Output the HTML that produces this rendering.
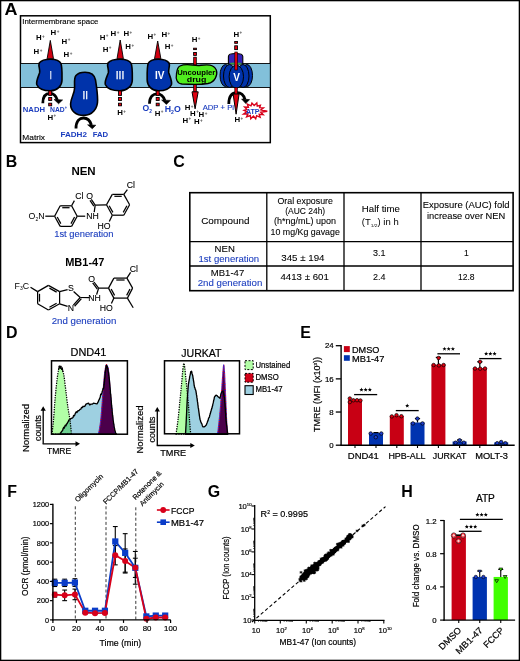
<!DOCTYPE html>
<html><head><meta charset="utf-8"><title>Figure</title>
<style>html,body{margin:0;padding:0;background:#fff;overflow:hidden}svg{display:block}text{font-family:"Liberation Sans", sans-serif}</style>
</head><body>
<svg width="520" height="661" viewBox="0 0 520 661">
<rect x="0" y="0" width="520" height="661" fill="#fff"/>
<text x="4.60" y="14.85" font-size="15.94" font-weight="bold" fill="#000" textLength="13.00" lengthAdjust="spacingAndGlyphs" >A</text>
<rect x="20.5" y="15.8" width="249.8" height="126.8" fill="#fff" stroke="#000" stroke-width="1.5"/>
<rect x="20.5" y="63.5" width="249.8" height="24" fill="#82c0da" stroke="#000" stroke-width="0.9"/>
<text x="22.30" y="23.75" font-size="7.10" stroke="#000" stroke-width="0.12" fill="#000" textLength="76.20" lengthAdjust="spacingAndGlyphs" >Intermembrane space</text>
<text x="22.30" y="139.95" font-size="7.10" stroke="#000" stroke-width="0.12" fill="#000" textLength="22.70" lengthAdjust="spacingAndGlyphs" >Matrix</text>
<path d="M50.3,40.4 L53.5,58.8 L47.099999999999994,58.8 Z" fill="#d00010" stroke="#000" stroke-width="0.9" stroke-linejoin="round"/>
<path d="M120.2,40 L123.4,58.8 L117.0,58.8 Z" fill="#d00010" stroke="#000" stroke-width="0.9" stroke-linejoin="round"/>
<path d="M157.7,41 L160.89999999999998,58.8 L154.5,58.8 Z" fill="#d00010" stroke="#000" stroke-width="0.9" stroke-linejoin="round"/>
<path d="M108,63 C110,60.5 115,59.2 120,59.2 C125,59.2 129.5,60 131.2,63.5 C132.6,67 132.3,75 132.3,80 C132.3,86 127,90.8 120,90.8 C113,90.8 107,88.5 105.3,84.5 C104.5,81 106.8,77 108.3,73 C109,70 107.5,67 107.6,65 Z" transform="translate(50.5,0) scale(0.935,1) translate(-120,0)" fill="#0033aa" stroke="#000" stroke-width="1.6" vector-effect="non-scaling-stroke"/>
<path d="M85,72.3 C90,72.3 94.5,74.5 95.5,80 C96.3,85 97.5,92 97.6,100 C97.8,109 92,115.4 84,115.4 C76,115.4 70.5,111 70.6,104 C70.7,98 74.5,94 74.6,88 C74.7,82 73.8,78 76,75.5 C78,73.2 81.5,72.3 85,72.3 Z" fill="#0033aa" stroke="#000" stroke-width="1.6"/>
<path d="M108,63 C110,60.5 115,59.2 120,59.2 C125,59.2 129.5,60 131.2,63.5 C132.6,67 132.3,75 132.3,80 C132.3,86 127,90.8 120,90.8 C113,90.8 107,88.5 105.3,84.5 C104.5,81 106.8,77 108.3,73 C109,70 107.5,67 107.6,65 Z" fill="#0033aa" stroke="#000" stroke-width="1.6"/>
<path d="M108,63 C110,60.5 115,59.2 120,59.2 C125,59.2 129.5,60 131.2,63.5 C132.6,67 132.3,75 132.3,80 C132.3,86 127,90.8 120,90.8 C113,90.8 107,88.5 105.3,84.5 C104.5,81 106.8,77 108.3,73 C109,70 107.5,67 107.6,65 Z" transform="translate(159.6,0) scale(-0.9,1) translate(-118.5,0)" fill="#0033aa" stroke="#000" stroke-width="1.6" vector-effect="non-scaling-stroke"/>
<g fill="#fff" stroke="#fff" stroke-width="0.25" text-anchor="middle" font-size="10.4">
<text x="50.8" y="78.6" textLength="2" lengthAdjust="spacingAndGlyphs">I</text><text x="85.3" y="99.4" textLength="5.5" lengthAdjust="spacingAndGlyphs">II</text><text x="120" y="78.6" textLength="8.6" lengthAdjust="spacingAndGlyphs">III</text></g>
<text x="159.8" y="79.0" fill="#fff" font-weight="bold" text-anchor="middle" font-size="10">IV</text>
<rect x="193.6" y="48.2" width="2.8" height="1.40" fill="#ee0010" stroke="#000" stroke-width="0.9"/>
<rect x="193.6" y="52.5" width="2.8" height="2.90" fill="#ee0010" stroke="#000" stroke-width="0.9"/>
<rect x="193.7" y="57.2" width="2.6" height="35" fill="#e00010" stroke="#000" stroke-width="0.8"/>
<path d="M192.0,91.8 L198.2,91.8 L195.1,108.8 Z" fill="#e00010" stroke="#000" stroke-width="1.0" stroke-linejoin="round"/>
<path d="M180,66 C186,63 192,65.5 198,65.5 C205,65 213,63 216.3,70 C218,75 215,82 208,83.5 C200,85 190,84.5 182,84 C177,83.5 175.5,79 176.5,74 C177,70 177,67.5 180,66 Z" fill="#50ee1e" stroke="#000" stroke-width="1.3"/>
<text x="177.30" y="75.35" font-size="7.97" font-weight="bold" fill="#000" textLength="38.00" lengthAdjust="spacingAndGlyphs" >Uncoupler</text>
<text x="186.80" y="81.95" font-size="7.97" font-weight="bold" fill="#000" textLength="19.60" lengthAdjust="spacingAndGlyphs" >drug</text>
<rect x="234.7" y="41.5" width="2.8" height="1.80" fill="#ee0010" stroke="#000" stroke-width="0.9"/>
<rect x="234.7" y="45.8" width="2.8" height="3.80" fill="#ee0010" stroke="#000" stroke-width="0.9"/>
<path d="M228.4,64 L228.4,56.5 C228.4,52.6 242.8,52.6 242.8,56.5 L242.8,64 Z" fill="#3322b8" stroke="#000" stroke-width="1.1"/>
<ellipse cx="235.6" cy="63.4" rx="6.2" ry="0.9" fill="#3aa040"/>
<ellipse cx="225.5" cy="75.5" rx="5.5" ry="11" fill="#0033aa" stroke="#000" stroke-width="1"/>
<ellipse cx="247" cy="75.5" rx="5.5" ry="11" fill="#0033aa" stroke="#000" stroke-width="1"/>
<ellipse cx="229.5" cy="76" rx="6" ry="11.5" fill="#0033aa" stroke="#000" stroke-width="1"/>
<ellipse cx="243" cy="76" rx="6" ry="11.5" fill="#0033aa" stroke="#000" stroke-width="1"/>
<ellipse cx="236.3" cy="76.7" rx="7.2" ry="11.5" fill="#0033aa" stroke="#000" stroke-width="1"/>
<rect x="234.8" y="52.0" width="2.6" height="18" fill="#e00010" stroke="#000" stroke-width="0.6"/>
<text x="236.6" y="80.6" fill="#fff" font-weight="bold" text-anchor="middle" font-size="10">V</text>
<path d="M42.8,103.2 C42.8,95.5 46.5,93.3 50,93.3 C53.5,93.3 56,95.5 57.3,100" fill="none" stroke="#000" stroke-width="2.8"/>
<path d="M54.0,99.4 L62.6,99.9 L58.6,103.8 Z" fill="#000" stroke="#000" stroke-width="0.6" stroke-linejoin="round"/>
<path d="M76,128.4 C76,120.3 80,118 83.5,118 C87,118 90,120.3 91.4,125" fill="none" stroke="#000" stroke-width="2.8"/>
<path d="M87.6,124.8 L95.8,125.2 L92.3,128.8 Z" fill="#000" stroke="#000" stroke-width="0.6" stroke-linejoin="round"/>
<path d="M149.5,103.8 C149.5,96 153.5,93.8 157,93.8 C160.5,93.8 163.5,96 164.8,100.5" fill="none" stroke="#000" stroke-width="2.8"/>
<path d="M161.6,100.0 L170.4,100.4 L166.4,104.4 Z" fill="#000" stroke="#000" stroke-width="0.6" stroke-linejoin="round"/>
<path d="M228.8,104 C228.8,95 233,92.6 237,92.6 C241,92.6 243.8,95 244.9,99.4" fill="none" stroke="#000" stroke-width="2.8"/>
<path d="M241.6,99.0 L249.6,99.6 L245.8,103.6 Z" fill="#000" stroke="#000" stroke-width="0.6" stroke-linejoin="round"/>
<rect x="48.7" y="90.9" width="3.0" height="4.50" fill="#ee0010" stroke="#000" stroke-width="0.9"/>
<rect x="48.7" y="97.5" width="3.0" height="3.00" fill="#ee0010" stroke="#000" stroke-width="0.9"/>
<rect x="48.7" y="103.2" width="3.0" height="2.60" fill="#ee0010" stroke="#000" stroke-width="0.9"/>
<rect x="118.5" y="90.9" width="3.0" height="4.50" fill="#ee0010" stroke="#000" stroke-width="0.9"/>
<rect x="118.5" y="97.5" width="3.0" height="3.00" fill="#ee0010" stroke="#000" stroke-width="0.9"/>
<rect x="118.5" y="103.2" width="3.0" height="2.60" fill="#ee0010" stroke="#000" stroke-width="0.9"/>
<rect x="156.2" y="90.9" width="3.0" height="4.50" fill="#ee0010" stroke="#000" stroke-width="0.9"/>
<rect x="156.2" y="97.5" width="3.0" height="3.00" fill="#ee0010" stroke="#000" stroke-width="0.9"/>
<rect x="156.2" y="103.2" width="3.0" height="2.60" fill="#ee0010" stroke="#000" stroke-width="0.9"/>
<rect x="234.8" y="87.5" width="2.6" height="7" fill="#e00010" stroke="#000" stroke-width="0.6"/>
<path d="M233.1,94 L239.1,94 L236.1,114.2 Z" fill="#e00010" stroke="#000" stroke-width="1.0" stroke-linejoin="round"/>
<polygon points="267.28,111.30 260.73,112.24 263.17,114.58 259.20,114.33 260.13,117.31 256.60,115.71 255.69,118.75 253.44,116.12 250.79,118.72 250.36,115.48 246.63,116.81 247.95,113.91 243.58,113.99 246.71,111.72 243.97,110.44 246.87,109.36 244.62,107.10 248.40,107.27 247.31,104.12 251.00,105.89 251.94,103.00 254.16,105.48 256.80,102.92 257.24,106.12 260.39,105.28 259.65,107.69 263.44,107.80 260.89,109.88" fill="#fff" stroke="#d8001a" stroke-width="1.4" stroke-linejoin="miter"/>
<text x="245.90" y="113.60" font-size="8.12" font-weight="bold" fill="#1a3cbe" textLength="13.70" lengthAdjust="spacingAndGlyphs" >ATP</text>
<text x="22.80" y="112.30" font-size="7.83" font-weight="bold" fill="#1a3cbe" textLength="22.20" lengthAdjust="spacingAndGlyphs" >NADH</text>
<text x="50" y="112.3" font-size="7.8" font-weight="bold" fill="#1a3cbe" textLength="17" lengthAdjust="spacingAndGlyphs">NAD<tspan font-size="4.5" dy="-3">+</tspan></text>
<text x="60.40" y="137.30" font-size="7.83" font-weight="bold" fill="#1a3cbe" textLength="26.60" lengthAdjust="spacingAndGlyphs" >FADH2</text>
<text x="92.70" y="137.30" font-size="7.83" font-weight="bold" fill="#1a3cbe" textLength="15.50" lengthAdjust="spacingAndGlyphs" >FAD</text>
<text x="142.5" y="111.2" font-size="8.6" font-weight="bold" fill="#1a3cbe">O<tspan font-size="4.8" dy="2">2</tspan></text>
<text x="164.8" y="111.6" font-size="8.2" font-weight="bold" fill="#1a3cbe" textLength="16" lengthAdjust="spacingAndGlyphs">H<tspan font-size="4.8" dy="2">2</tspan><tspan dy="-2">O</tspan></text>
<text x="202.70" y="110.10" font-size="7.54" stroke="#1a3cbe" stroke-width="0.12" fill="#1a3cbe" textLength="31.30" lengthAdjust="spacingAndGlyphs" >ADP + Pi</text>
<text x="35.90" y="40.00" font-size="7.83" font-weight="bold">H<tspan font-size="4.54" dx="0.5" dy="-2.35" fill="#555">+</tspan></text>
<text x="50.50" y="35.10" font-size="7.83" font-weight="bold">H<tspan font-size="4.54" dx="0.5" dy="-2.35" fill="#555">+</tspan></text>
<text x="61.50" y="43.70" font-size="7.83" font-weight="bold">H<tspan font-size="4.54" dx="0.5" dy="-2.35" fill="#555">+</tspan></text>
<text x="33.50" y="53.90" font-size="7.83" font-weight="bold">H<tspan font-size="4.54" dx="0.5" dy="-2.35" fill="#555">+</tspan></text>
<text x="63.50" y="57.40" font-size="7.83" font-weight="bold">H<tspan font-size="4.54" dx="0.5" dy="-2.35" fill="#555">+</tspan></text>
<text x="99.70" y="39.80" font-size="7.83" font-weight="bold">H<tspan font-size="4.54" dx="0.5" dy="-2.35" fill="#555">+</tspan></text>
<text x="110.50" y="36.00" font-size="7.83" font-weight="bold">H<tspan font-size="4.54" dx="0.5" dy="-2.35" fill="#555">+</tspan></text>
<text x="123.40" y="36.40" font-size="7.83" font-weight="bold">H<tspan font-size="4.54" dx="0.5" dy="-2.35" fill="#555">+</tspan></text>
<text x="102.70" y="51.70" font-size="7.83" font-weight="bold">H<tspan font-size="4.54" dx="0.5" dy="-2.35" fill="#555">+</tspan></text>
<text x="125.30" y="49.40" font-size="7.83" font-weight="bold">H<tspan font-size="4.54" dx="0.5" dy="-2.35" fill="#555">+</tspan></text>
<text x="147.40" y="38.50" font-size="7.83" font-weight="bold">H<tspan font-size="4.54" dx="0.5" dy="-2.35" fill="#555">+</tspan></text>
<text x="161.40" y="36.90" font-size="7.83" font-weight="bold">H<tspan font-size="4.54" dx="0.5" dy="-2.35" fill="#555">+</tspan></text>
<text x="164.70" y="49.40" font-size="7.83" font-weight="bold">H<tspan font-size="4.54" dx="0.5" dy="-2.35" fill="#555">+</tspan></text>
<text x="191.70" y="41.90" font-size="7.83" font-weight="bold">H<tspan font-size="4.54" dx="0.5" dy="-2.35" fill="#555">+</tspan></text>
<text x="233.40" y="36.50" font-size="7.83" font-weight="bold">H<tspan font-size="4.54" dx="0.5" dy="-2.35" fill="#555">+</tspan></text>
<text x="47.40" y="119.70" font-size="7.83" font-weight="bold">H<tspan font-size="4.54" dx="0.5" dy="-2.35" fill="#555">+</tspan></text>
<text x="117.20" y="115.00" font-size="7.83" font-weight="bold">H<tspan font-size="4.54" dx="0.5" dy="-2.35" fill="#555">+</tspan></text>
<text x="154.70" y="115.70" font-size="7.83" font-weight="bold">H<tspan font-size="4.54" dx="0.5" dy="-2.35" fill="#555">+</tspan></text>
<text x="184.70" y="109.90" font-size="7.83" font-weight="bold">H<tspan font-size="4.54" dx="0.5" dy="-2.35" fill="#555">+</tspan></text>
<text x="190.10" y="115.70" font-size="7.83" font-weight="bold">H<tspan font-size="4.54" dx="0.5" dy="-2.35" fill="#555">+</tspan></text>
<text x="198.50" y="117.30" font-size="7.83" font-weight="bold">H<tspan font-size="4.54" dx="0.5" dy="-2.35" fill="#555">+</tspan></text>
<text x="182.40" y="122.70" font-size="7.83" font-weight="bold">H<tspan font-size="4.54" dx="0.5" dy="-2.35" fill="#555">+</tspan></text>
<text x="193.90" y="124.20" font-size="7.83" font-weight="bold">H<tspan font-size="4.54" dx="0.5" dy="-2.35" fill="#555">+</tspan></text>
<text x="234.40" y="121.90" font-size="7.83" font-weight="bold">H<tspan font-size="4.54" dx="0.5" dy="-2.35" fill="#555">+</tspan></text>
<text x="11.40" y="167.25" font-size="15.94" text-anchor="middle" font-weight="bold" fill="#000" >B</text>
<text x="71.40" y="174.80" font-size="10.72" font-weight="bold" fill="#000" textLength="24.30" lengthAdjust="spacingAndGlyphs" >NEN</text>
<line x1="54.60" y1="216.20" x2="60.20" y2="205.80" stroke="#000" stroke-width="1.25" />
<line x1="60.20" y1="205.80" x2="71.60" y2="205.80" stroke="#000" stroke-width="1.25" />
<line x1="71.60" y1="205.80" x2="77.20" y2="216.20" stroke="#000" stroke-width="1.25" />
<line x1="77.20" y1="216.20" x2="71.60" y2="226.40" stroke="#000" stroke-width="1.25" />
<line x1="71.60" y1="226.40" x2="60.20" y2="226.40" stroke="#000" stroke-width="1.25" />
<line x1="60.20" y1="226.40" x2="54.60" y2="216.20" stroke="#000" stroke-width="1.25" />
<line x1="62.25" y1="207.70" x2="69.55" y2="207.70" stroke="#000" stroke-width="1.25" />
<line x1="74.57" y1="217.05" x2="70.98" y2="223.58" stroke="#000" stroke-width="1.25" />
<line x1="60.82" y1="223.58" x2="57.23" y2="217.05" stroke="#000" stroke-width="1.25" />
<line x1="71.60" y1="205.80" x2="74.40" y2="200.60" stroke="#000" stroke-width="1.25" />
<text x="79.30" y="198.60" font-size="8.70" text-anchor="middle" stroke="#000" stroke-width="0.1" fill="#000" >Cl</text>
<line x1="77.20" y1="216.20" x2="85.20" y2="216.20" stroke="#000" stroke-width="1.25" />
<text x="92.60" y="219.20" font-size="8.70" text-anchor="middle" stroke="#000" stroke-width="0.1" fill="#000" >NH</text>
<text x="44.6" y="219" font-size="8.8" text-anchor="end">O<tspan font-size="5" dy="1.6">2</tspan><tspan dy="-1.6">N</tspan></text>
<line x1="45.30" y1="216.20" x2="54.60" y2="216.20" stroke="#000" stroke-width="1.25" />
<line x1="94.20" y1="212.20" x2="95.20" y2="205.20" stroke="#000" stroke-width="1.25" />
<line x1="95.20" y1="205.20" x2="91.30" y2="199.40" stroke="#000" stroke-width="1.25" />
<line x1="93.87" y1="206.09" x2="89.97" y2="200.29" stroke="#000" stroke-width="1.25" />
<text x="89.60" y="198.60" font-size="8.70" text-anchor="middle" stroke="#000" stroke-width="0.1" fill="#000" >O</text>
<line x1="95.20" y1="205.20" x2="106.50" y2="204.80" stroke="#000" stroke-width="1.25" />
<line x1="106.50" y1="204.80" x2="112.30" y2="194.40" stroke="#000" stroke-width="1.25" />
<line x1="112.30" y1="194.40" x2="123.80" y2="194.40" stroke="#000" stroke-width="1.25" />
<line x1="123.80" y1="194.40" x2="129.60" y2="204.80" stroke="#000" stroke-width="1.25" />
<line x1="129.60" y1="204.80" x2="123.80" y2="215.20" stroke="#000" stroke-width="1.25" />
<line x1="123.80" y1="215.20" x2="112.30" y2="215.20" stroke="#000" stroke-width="1.25" />
<line x1="112.30" y1="215.20" x2="106.50" y2="204.80" stroke="#000" stroke-width="1.25" />
<line x1="114.37" y1="196.30" x2="121.73" y2="196.30" stroke="#000" stroke-width="1.25" />
<line x1="126.93" y1="205.69" x2="123.22" y2="212.35" stroke="#000" stroke-width="1.25" />
<line x1="112.88" y1="212.35" x2="109.17" y2="205.69" stroke="#000" stroke-width="1.25" />
<line x1="123.80" y1="194.40" x2="127.40" y2="189.60" stroke="#000" stroke-width="1.25" />
<text x="130.90" y="188.40" font-size="8.70" text-anchor="middle" stroke="#000" stroke-width="0.1" fill="#000" >Cl</text>
<line x1="112.30" y1="215.20" x2="109.30" y2="221.60" stroke="#000" stroke-width="1.25" />
<text x="103.90" y="229.20" font-size="8.70" text-anchor="middle" stroke="#000" stroke-width="0.1" fill="#000" >HO</text>
<text x="54.20" y="237.30" font-size="8.70" stroke="#1a3cbe" stroke-width="0.1" fill="#1a3cbe" textLength="59.30" lengthAdjust="spacingAndGlyphs" >1st generation</text>
<text x="65.20" y="266.00" font-size="10.72" font-weight="bold" fill="#000" textLength="39.10" lengthAdjust="spacingAndGlyphs" >MB1-47</text>
<text x="14.5" y="288.8" font-size="8.8">F<tspan font-size="5" dy="1.6">3</tspan><tspan dy="-1.6">C</tspan></text>
<line x1="48.40" y1="285.40" x2="59.60" y2="291.60" stroke="#000" stroke-width="1.25" />
<line x1="59.60" y1="291.60" x2="59.60" y2="303.80" stroke="#000" stroke-width="1.25" />
<line x1="59.60" y1="303.80" x2="48.40" y2="310.00" stroke="#000" stroke-width="1.25" />
<line x1="48.40" y1="310.00" x2="37.60" y2="303.80" stroke="#000" stroke-width="1.25" />
<line x1="37.60" y1="303.80" x2="37.60" y2="291.60" stroke="#000" stroke-width="1.25" />
<line x1="37.60" y1="291.60" x2="48.40" y2="285.40" stroke="#000" stroke-width="1.25" />
<line x1="49.45" y1="288.15" x2="56.61" y2="292.12" stroke="#000" stroke-width="1.25" />
<line x1="56.61" y1="303.28" x2="49.45" y2="307.25" stroke="#000" stroke-width="1.25" />
<line x1="39.50" y1="301.60" x2="39.50" y2="293.80" stroke="#000" stroke-width="1.25" />
<line x1="30.50" y1="287.20" x2="37.60" y2="291.60" stroke="#000" stroke-width="1.25" />
<text x="70.90" y="291.40" font-size="8.70" text-anchor="middle" stroke="#000" stroke-width="0.1" fill="#000" >S</text>
<text x="70.90" y="311.20" font-size="8.70" text-anchor="middle" stroke="#000" stroke-width="0.1" fill="#000" >N</text>
<line x1="59.60" y1="291.60" x2="67.60" y2="289.60" stroke="#000" stroke-width="1.25" />
<line x1="59.60" y1="303.80" x2="67.60" y2="306.40" stroke="#000" stroke-width="1.25" />
<line x1="73.60" y1="291.50" x2="80.20" y2="297.50" stroke="#000" stroke-width="1.25" />
<line x1="73.40" y1="305.20" x2="80.20" y2="297.50" stroke="#000" stroke-width="1.25" />
<line x1="74.60" y1="306.26" x2="81.40" y2="298.56" stroke="#000" stroke-width="1.25" />
<line x1="80.20" y1="297.50" x2="89.50" y2="297.60" stroke="#000" stroke-width="1.25" />
<text x="94.60" y="301.00" font-size="8.70" text-anchor="middle" stroke="#000" stroke-width="0.1" fill="#000" >NH</text>
<line x1="96.60" y1="294.60" x2="98.60" y2="288.20" stroke="#000" stroke-width="1.25" />
<line x1="98.60" y1="288.20" x2="94.00" y2="282.00" stroke="#000" stroke-width="1.25" />
<line x1="97.32" y1="289.15" x2="92.72" y2="282.95" stroke="#000" stroke-width="1.25" />
<text x="91.60" y="281.80" font-size="8.70" text-anchor="middle" stroke="#000" stroke-width="0.1" fill="#000" >O</text>
<line x1="98.60" y1="288.20" x2="108.50" y2="288.10" stroke="#000" stroke-width="1.25" />
<line x1="108.50" y1="288.10" x2="113.90" y2="278.10" stroke="#000" stroke-width="1.25" />
<line x1="113.90" y1="278.10" x2="126.90" y2="278.10" stroke="#000" stroke-width="1.25" />
<line x1="126.90" y1="278.10" x2="132.60" y2="288.10" stroke="#000" stroke-width="1.25" />
<line x1="132.60" y1="288.10" x2="127.40" y2="298.10" stroke="#000" stroke-width="1.25" />
<line x1="127.40" y1="298.10" x2="113.90" y2="298.10" stroke="#000" stroke-width="1.25" />
<line x1="113.90" y1="298.10" x2="108.50" y2="288.10" stroke="#000" stroke-width="1.25" />
<line x1="116.27" y1="280.00" x2="124.59" y2="280.00" stroke="#000" stroke-width="1.25" />
<line x1="129.98" y1="289.01" x2="126.66" y2="295.41" stroke="#000" stroke-width="1.25" />
<line x1="114.60" y1="295.40" x2="111.15" y2="289.00" stroke="#000" stroke-width="1.25" />
<line x1="126.90" y1="278.10" x2="130.60" y2="272.40" stroke="#000" stroke-width="1.25" />
<text x="133.90" y="272.00" font-size="8.70" text-anchor="middle" stroke="#000" stroke-width="0.1" fill="#000" >Cl</text>
<line x1="127.40" y1="298.10" x2="133.20" y2="307.80" stroke="#000" stroke-width="1.25" />
<line x1="113.90" y1="298.10" x2="111.40" y2="303.60" stroke="#000" stroke-width="1.25" />
<text x="106.30" y="311.20" font-size="8.70" text-anchor="middle" stroke="#000" stroke-width="0.1" fill="#000" >HO</text>
<text x="51.70" y="324.00" font-size="8.70" stroke="#1a3cbe" stroke-width="0.1" fill="#1a3cbe" textLength="64.70" lengthAdjust="spacingAndGlyphs" >2nd generation</text>
<text x="179.10" y="167.25" font-size="15.94" text-anchor="middle" font-weight="bold" fill="#000" >C</text>
<rect x="189.8" y="192.7" width="323.3" height="98.0" fill="none" stroke="#000" stroke-width="1.6"/>
<line x1="266.80" y1="192.70" x2="266.80" y2="290.70" stroke="#000" stroke-width="1.3" />
<line x1="344.00" y1="192.70" x2="344.00" y2="290.70" stroke="#000" stroke-width="1.3" />
<line x1="421.00" y1="192.70" x2="421.00" y2="290.70" stroke="#000" stroke-width="1.3" />
<line x1="189.80" y1="241.60" x2="513.10" y2="241.60" stroke="#000" stroke-width="1.3" />
<line x1="189.80" y1="266.00" x2="513.10" y2="266.00" stroke="#000" stroke-width="1.3" />
<text x="201.20" y="224.15" font-size="8.55" stroke="#000" stroke-width="0.08" fill="#000" textLength="48.40" lengthAdjust="spacingAndGlyphs" >Compound</text>
<text x="277.50" y="204.05" font-size="8.55" stroke="#000" stroke-width="0.08" fill="#000" textLength="55.40" lengthAdjust="spacingAndGlyphs" >Oral exposure</text>
<text x="285.20" y="214.35" font-size="8.55" stroke="#000" stroke-width="0.08" fill="#000" textLength="40.00" lengthAdjust="spacingAndGlyphs" >(AUC 24h)</text>
<text x="274.00" y="224.45" font-size="8.55" stroke="#000" stroke-width="0.08" fill="#000" textLength="62.00" lengthAdjust="spacingAndGlyphs" >(h*ng/mL) upon</text>
<text x="270.60" y="235.25" font-size="8.55" stroke="#000" stroke-width="0.08" fill="#000" textLength="69.20" lengthAdjust="spacingAndGlyphs" >10 mg/Kg gavage</text>
<text x="361.80" y="212.45" font-size="8.55" stroke="#000" stroke-width="0.08" fill="#000" textLength="38.10" lengthAdjust="spacingAndGlyphs" >Half time</text>
<text x="361.8" y="224.95" font-size="8.55" textLength="36.9" lengthAdjust="spacingAndGlyphs">(T<tspan font-size="4.4" dy="1.8">1/2</tspan><tspan dy="-1.8">) in h</tspan></text>
<text x="422.80" y="208.15" font-size="8.55" stroke="#000" stroke-width="0.08" fill="#000" textLength="86.70" lengthAdjust="spacingAndGlyphs" >Exposure (AUC) fold</text>
<text x="427.00" y="219.35" font-size="8.55" stroke="#000" stroke-width="0.08" fill="#000" textLength="78.30" lengthAdjust="spacingAndGlyphs" >increase over NEN</text>
<text x="214.60" y="251.65" font-size="8.55" stroke="#000" stroke-width="0.08" fill="#000" textLength="20.30" lengthAdjust="spacingAndGlyphs" >NEN</text>
<text x="198.50" y="261.55" font-size="8.55" stroke="#1a3cbe" stroke-width="0.08" fill="#1a3cbe" textLength="60.70" lengthAdjust="spacingAndGlyphs" >1st generation</text>
<text x="281.25" y="260.70" font-size="8.55" stroke="#000" stroke-width="0.08" fill="#000" textLength="43.25" lengthAdjust="spacingAndGlyphs" >345 ± 194</text>
<text x="373.00" y="256.20" font-size="8.55" stroke="#000" stroke-width="0.08" fill="#000" textLength="12.50" lengthAdjust="spacingAndGlyphs" >3.1</text>
<text x="466.30" y="256.20" font-size="8.55" text-anchor="middle" stroke="#000" stroke-width="0.08" fill="#000" >1</text>
<text x="210.80" y="275.65" font-size="8.55" stroke="#000" stroke-width="0.08" fill="#000" textLength="33.40" lengthAdjust="spacingAndGlyphs" >MB1-47</text>
<text x="197.70" y="286.35" font-size="8.55" stroke="#1a3cbe" stroke-width="0.08" fill="#1a3cbe" textLength="64.60" lengthAdjust="spacingAndGlyphs" >2nd generation</text>
<text x="280.50" y="279.95" font-size="8.55" stroke="#000" stroke-width="0.08" fill="#000" textLength="48.25" lengthAdjust="spacingAndGlyphs" >4413 ± 601</text>
<text x="373.00" y="279.95" font-size="8.55" stroke="#000" stroke-width="0.08" fill="#000" textLength="12.50" lengthAdjust="spacingAndGlyphs" >2.4</text>
<text x="466.30" y="279.95" font-size="8.55" text-anchor="middle" stroke="#000" stroke-width="0.08" fill="#000" >12.8</text>
<text x="11.85" y="338.15" font-size="15.94" text-anchor="middle" font-weight="bold" fill="#000" >D</text>
<text x="70.50" y="356.00" font-size="10.72" stroke="#000" stroke-width="0.2" fill="#000" textLength="35.90" lengthAdjust="spacingAndGlyphs" >DND41</text>
<path d="M60.00,434.20 L60.54,432.83 L61.08,432.59 L61.62,431.39 L62.16,431.01 L62.70,430.20 L63.24,428.23 L63.78,427.28 L64.32,428.07 L64.86,426.07 L65.40,425.17 L65.98,425.83 L66.55,423.92 L67.12,423.79 L67.70,422.20 L68.28,421.67 L68.85,419.83 L69.42,419.93 L70.00,419.54 L71.00,418.31 L72.00,418.22 L73.00,417.54 L73.62,415.40 L74.25,415.87 L74.88,414.61 L75.50,413.10 L76.23,411.73 L76.97,412.56 L77.70,410.95 L78.47,410.77 L79.23,410.42 L80.00,409.43 L80.76,409.18 L81.52,407.47 L82.28,407.62 L83.04,406.25 L83.80,406.57 L84.90,406.11 L86.00,404.19 L87.25,403.67 L88.50,403.23 L89.75,404.93 L91.00,404.07 L92.20,404.19 L93.40,403.27 L94.60,403.41 L95.80,403.57 L97.00,403.90 L97.44,403.29 L97.88,402.21 L98.32,401.77 L98.76,400.24 L99.20,399.66 L99.59,398.54 L99.97,397.83 L100.36,396.22 L100.75,394.23 L101.14,394.65 L101.53,393.88 L101.91,392.78 L102.30,391.14 L102.67,390.48 L103.05,388.52 L103.42,388.81 L103.80,387.35 L103.91,385.75 L104.02,384.28 L104.13,384.84 L104.24,384.09 L104.36,381.27 L104.47,381.67 L104.58,379.87 L104.69,378.32 L104.80,377.59 L104.89,377.54 L104.97,376.75 L105.06,374.09 L105.15,374.23 L105.24,372.09 L105.33,372.44 L105.41,370.66 L105.50,370.76 L105.67,369.89 L105.85,367.86 L106.03,367.77 L106.20,365.32 L107.20,366.15 L107.42,368.20 L107.64,368.06 L107.86,369.39 L108.08,370.82 L108.30,372.22 L108.45,372.31 L108.60,373.08 L108.75,375.74 L108.90,375.63 L109.05,377.92 L109.20,378.79 L109.29,378.78 L109.38,379.98 L109.47,381.12 L109.56,382.40 L109.64,383.33 L109.73,384.29 L109.82,385.43 L109.91,387.10 L110.00,387.26 L110.09,388.14 L110.18,389.75 L110.27,389.81 L110.36,390.96 L110.44,393.34 L110.53,393.46 L110.62,394.54 L110.71,394.50 L110.80,396.33 L110.89,397.70 L110.98,397.62 L111.08,399.85 L111.17,400.92 L111.26,400.81 L111.35,402.99 L111.45,403.70 L111.54,405.17 L111.63,405.55 L111.72,407.30 L111.82,408.40 L111.91,408.01 L112.00,409.12 L112.11,411.41 L112.22,413.04 L112.33,412.67 L112.44,414.13 L112.56,415.46 L112.67,415.97 L112.78,417.12 L112.89,418.07 L113.00,419.24 L113.16,420.75 L113.33,421.23 L113.49,422.44 L113.65,424.29 L113.81,423.87 L113.97,426.01 L114.14,427.41 L114.30,427.62 L114.58,428.60 L114.85,430.91 L115.12,430.93 L115.40,432.60 L116.50,434.20 Z" fill="#9ed0e1" stroke="none"/>
<path d="M52.00,434.20 C52.25,431.83 53.00,425.70 53.50,420.00 C54.00,414.30 54.42,406.67 55.00,400.00 C55.58,393.33 56.42,385.00 57.00,380.00 C57.58,375.00 58.08,372.38 58.50,370.00 C58.92,367.62 59.22,365.95 59.50,365.70 C59.78,365.45 59.98,368.45 60.20,368.50 C60.42,368.55 60.58,365.92 60.80,366.00 C61.02,366.08 61.27,368.67 61.50,369.00 C61.73,369.33 61.95,367.50 62.20,368.00 C62.45,368.50 62.70,370.67 63.00,372.00 C63.30,373.33 63.50,372.67 64.00,376.00 C64.50,379.33 65.33,386.67 66.00,392.00 C66.67,397.33 67.33,403.33 68.00,408.00 C68.67,412.67 69.42,415.63 70.00,420.00 C70.58,424.37 71.25,431.83 71.50,434.20 Z" fill="#b2ffa6" stroke="none" style="mix-blend-mode:multiply"/>
<path d="M98.50,434.20 C98.88,431.75 100.05,426.57 100.80,419.50 C101.55,412.43 102.37,399.48 103.00,391.80 C103.63,384.12 104.07,377.88 104.60,373.40 C105.13,368.92 105.75,366.05 106.20,364.90 C106.65,363.75 106.92,365.60 107.30,366.50 C107.68,367.40 107.92,365.30 108.50,370.30 C109.08,375.30 110.17,389.38 110.80,396.50 C111.43,403.62 111.80,408.13 112.30,413.00 C112.80,417.87 113.28,422.17 113.80,425.70 C114.32,429.23 115.13,432.78 115.40,434.20 Z" fill="#4b004b" stroke="none"/>
<path d="M98.50,434.20 C98.88,431.75 100.05,426.57 100.80,419.50 C101.55,412.43 102.37,399.48 103.00,391.80 C103.63,384.12 104.07,377.88 104.60,373.40 C105.13,368.92 105.75,366.05 106.20,364.90 C106.65,363.75 106.92,365.60 107.30,366.50 C107.68,367.40 107.92,365.30 108.50,370.30 C109.08,375.30 110.17,389.38 110.80,396.50 C111.43,403.62 111.80,408.13 112.30,413.00 C112.80,417.87 113.28,422.17 113.80,425.70 C114.32,429.23 115.13,432.78 115.40,434.20 Z" fill="none" stroke="#e00020" stroke-width="1.1" stroke-dasharray="1.2,1.2"/>
<path d="M98.50,434.20 C98.88,431.75 100.05,426.57 100.80,419.50 C101.55,412.43 102.37,399.48 103.00,391.80 C103.63,384.12 104.07,377.88 104.60,373.40 C105.13,368.92 105.75,366.05 106.20,364.90 C106.65,363.75 106.92,365.60 107.30,366.50 C107.68,367.40 107.92,365.30 108.50,370.30 C109.08,375.30 110.17,389.38 110.80,396.50 C111.43,403.62 111.80,408.13 112.30,413.00 C112.80,417.87 113.28,422.17 113.80,425.70 C114.32,429.23 115.13,432.78 115.40,434.20 Z" fill="none" stroke="#2020e0" stroke-width="1.1" stroke-dasharray="1.2,1.2" stroke-dashoffset="1.2"/>
<path d="M52.00,434.20 C52.25,431.83 53.00,425.70 53.50,420.00 C54.00,414.30 54.42,406.67 55.00,400.00 C55.58,393.33 56.42,385.00 57.00,380.00 C57.58,375.00 58.08,372.38 58.50,370.00 C58.92,367.62 59.22,365.95 59.50,365.70 C59.78,365.45 59.98,368.45 60.20,368.50 C60.42,368.55 60.58,365.92 60.80,366.00 C61.02,366.08 61.27,368.67 61.50,369.00 C61.73,369.33 61.95,367.50 62.20,368.00 C62.45,368.50 62.70,370.67 63.00,372.00 C63.30,373.33 63.50,372.67 64.00,376.00 C64.50,379.33 65.33,386.67 66.00,392.00 C66.67,397.33 67.33,403.33 68.00,408.00 C68.67,412.67 69.42,415.63 70.00,420.00 C70.58,424.37 71.25,431.83 71.50,434.20 Z" fill="none" stroke="#000" stroke-width="1.25" stroke-dasharray="1.3,1.1"/>
<path d="M58.50,370.00 L59.50,365.70 L60.20,368.50 L60.80,366.00 L61.50,369.00 L62.20,368.00 L63.00,372.00" fill="none" stroke="#000" stroke-width="1.1"/>
<path d="M60.00,434.20 L60.54,432.83 L61.08,432.59 L61.62,431.39 L62.16,431.01 L62.70,430.20 L63.24,428.23 L63.78,427.28 L64.32,428.07 L64.86,426.07 L65.40,425.17 L65.98,425.83 L66.55,423.92 L67.12,423.79 L67.70,422.20 L68.28,421.67 L68.85,419.83 L69.42,419.93 L70.00,419.54 L71.00,418.31 L72.00,418.22 L73.00,417.54 L73.62,415.40 L74.25,415.87 L74.88,414.61 L75.50,413.10 L76.23,411.73 L76.97,412.56 L77.70,410.95 L78.47,410.77 L79.23,410.42 L80.00,409.43 L80.76,409.18 L81.52,407.47 L82.28,407.62 L83.04,406.25 L83.80,406.57 L84.90,406.11 L86.00,404.19 L87.25,403.67 L88.50,403.23 L89.75,404.93 L91.00,404.07 L92.20,404.19 L93.40,403.27 L94.60,403.41 L95.80,403.57 L97.00,403.90 L97.44,403.29 L97.88,402.21 L98.32,401.77 L98.76,400.24 L99.20,399.66 L99.59,398.54 L99.97,397.83 L100.36,396.22 L100.75,394.23 L101.14,394.65 L101.53,393.88 L101.91,392.78 L102.30,391.14 L102.67,390.48 L103.05,388.52 L103.42,388.81 L103.80,387.35 L103.91,385.75 L104.02,384.28 L104.13,384.84 L104.24,384.09 L104.36,381.27 L104.47,381.67 L104.58,379.87 L104.69,378.32 L104.80,377.59 L104.89,377.54 L104.97,376.75 L105.06,374.09 L105.15,374.23 L105.24,372.09 L105.33,372.44 L105.41,370.66 L105.50,370.76 L105.67,369.89 L105.85,367.86 L106.03,367.77 L106.20,365.32 L107.20,366.15 L107.42,368.20 L107.64,368.06 L107.86,369.39 L108.08,370.82 L108.30,372.22 L108.45,372.31 L108.60,373.08 L108.75,375.74 L108.90,375.63 L109.05,377.92 L109.20,378.79 L109.29,378.78 L109.38,379.98 L109.47,381.12 L109.56,382.40 L109.64,383.33 L109.73,384.29 L109.82,385.43 L109.91,387.10 L110.00,387.26 L110.09,388.14 L110.18,389.75 L110.27,389.81 L110.36,390.96 L110.44,393.34 L110.53,393.46 L110.62,394.54 L110.71,394.50 L110.80,396.33 L110.89,397.70 L110.98,397.62 L111.08,399.85 L111.17,400.92 L111.26,400.81 L111.35,402.99 L111.45,403.70 L111.54,405.17 L111.63,405.55 L111.72,407.30 L111.82,408.40 L111.91,408.01 L112.00,409.12 L112.11,411.41 L112.22,413.04 L112.33,412.67 L112.44,414.13 L112.56,415.46 L112.67,415.97 L112.78,417.12 L112.89,418.07 L113.00,419.24 L113.16,420.75 L113.33,421.23 L113.49,422.44 L113.65,424.29 L113.81,423.87 L113.97,426.01 L114.14,427.41 L114.30,427.62 L114.58,428.60 L114.85,430.91 L115.12,430.93 L115.40,432.60 L116.50,434.20 Z" fill="none" stroke="#000" stroke-width="1.35" stroke-linejoin="round"/>
<rect x="51.5" y="360.8" width="75.9" height="73.39999999999998" fill="none" stroke="#000" stroke-width="1.5"/>
<line x1="43.20" y1="443.80" x2="43.20" y2="409.20" stroke="#000" stroke-width="1.3" />
<path d="M40.6,410.7 L43.2,406.2 L45.800000000000004,410.7 Z" fill="#000"/>
<line x1="42.60" y1="443.80" x2="77.00" y2="443.80" stroke="#000" stroke-width="1.3" />
<path d="M75.5,441.2 L80,443.8 L75.5,446.40000000000003 Z" fill="#000"/>
<text transform="translate(29.35,428.00) rotate(-90)" stroke="#000" stroke-width="0.2" font-size="8.99" text-anchor="middle" textLength="48" lengthAdjust="spacingAndGlyphs">Normalized</text>
<text transform="translate(40.60,428.00) rotate(-90)" stroke="#000" stroke-width="0.2" font-size="8.99" text-anchor="middle" textLength="26" lengthAdjust="spacingAndGlyphs">counts</text>
<text x="47.00" y="453.85" font-size="8.99" stroke="#000" stroke-width="0.2" fill="#000" textLength="24.25" lengthAdjust="spacingAndGlyphs" >TMRE</text>
<text x="181.20" y="356.60" font-size="10.72" stroke="#000" stroke-width="0.2" fill="#000" textLength="40.40" lengthAdjust="spacingAndGlyphs" >JURKAT</text>
<path d="M185.50,434.20 L185.56,432.88 L185.62,432.12 L185.69,430.88 L185.75,430.05 L185.81,429.01 L185.88,427.39 L185.94,426.28 L186.00,426.04 L186.05,424.43 L186.10,423.38 L186.14,423.11 L186.19,421.56 L186.24,420.90 L186.29,419.51 L186.34,418.64 L186.38,417.13 L186.43,416.58 L186.48,415.79 L186.53,414.42 L186.58,413.61 L186.62,412.51 L186.67,410.87 L186.72,410.54 L186.77,409.34 L186.82,408.03 L186.86,406.73 L186.91,406.53 L186.96,405.11 L187.01,404.33 L187.06,403.46 L187.10,402.27 L187.15,401.45 L187.20,399.89 L187.27,399.30 L187.35,397.94 L187.42,397.44 L187.50,396.38 L187.57,394.60 L187.65,393.64 L187.72,392.72 L187.80,392.47 L187.88,390.94 L187.95,390.13 L188.03,388.80 L188.10,388.01 L188.18,386.89 L188.25,385.85 L188.33,385.09 L188.40,384.08 L188.60,383.28 L188.80,381.93 L189.00,381.05 L189.20,379.86 L189.41,378.89 L189.63,377.47 L189.84,375.86 L190.06,375.46 L190.27,374.46 L190.49,373.30 L190.70,371.87 L191.50,371.21 L191.75,371.74 L192.00,373.40 L192.25,374.17 L192.50,374.92 L192.75,375.73 L193.00,377.55 L193.15,378.69 L193.30,378.79 L193.45,380.50 L193.60,381.11 L193.75,381.85 L193.90,382.99 L194.05,384.47 L194.20,385.57 L194.35,385.74 L194.50,387.31 L194.88,387.69 L195.25,389.32 L195.62,389.88 L196.00,391.38 L196.15,392.54 L196.29,393.11 L196.44,394.66 L196.58,395.03 L196.73,395.85 L196.87,397.43 L197.02,397.91 L197.16,399.13 L197.31,400.40 L197.45,401.66 L197.60,402.26 L197.74,403.14 L197.88,404.96 L198.02,405.40 L198.16,407.04 L198.31,407.97 L198.45,408.44 L198.59,409.52 L198.73,410.57 L198.87,411.69 L199.01,412.64 L199.15,413.59 L199.29,414.65 L199.44,415.96 L199.58,416.52 L199.72,417.44 L199.86,418.73 L200.00,419.24 L200.38,420.26 L200.75,421.90 L201.12,422.41 L201.50,423.40 L201.88,423.82 L202.25,425.19 L202.62,426.32 L203.00,426.72 L204.00,426.82 L205.00,426.33 L206.00,425.26 L206.36,424.88 L206.71,423.78 L207.07,423.05 L207.42,421.77 L207.78,421.18 L208.13,420.27 L208.49,418.61 L208.84,417.71 L209.20,417.38 L209.50,416.66 L209.80,414.95 L210.10,414.16 L210.40,413.29 L210.70,412.02 L211.00,411.06 L211.30,410.01 L211.60,409.07 L211.90,408.30 L212.20,407.00 L212.43,406.08 L212.66,405.47 L212.89,403.73 L213.12,403.27 L213.35,402.44 L213.58,401.01 L213.81,399.92 L214.04,399.50 L214.27,397.94 L214.50,396.89 L215.25,396.04 L216.00,395.20 L216.80,395.34 L217.60,396.29 L218.40,397.03 L220.00,398.33 L220.25,396.91 L220.50,396.29 L220.75,394.57 L221.00,393.70 L221.25,392.98 L221.50,392.18 L223.00,390.95 L223.21,391.73 L223.43,392.62 L223.64,394.03 L223.86,394.69 L224.07,396.31 L224.29,397.34 L224.50,397.68 L224.57,398.80 L224.64,400.35 L224.71,401.21 L224.79,402.40 L224.86,402.96 L224.93,403.77 L225.00,404.96 L225.07,406.48 L225.14,406.99 L225.21,408.08 L225.29,409.18 L225.36,410.21 L225.43,411.22 L225.50,412.75 L225.57,413.01 L225.64,413.89 L225.71,415.85 L225.79,416.81 L225.86,417.94 L225.93,418.41 L226.00,419.50 L226.11,421.00 L226.23,422.03 L226.34,422.37 L226.46,423.95 L226.57,425.09 L226.69,425.96 L226.80,426.87 L226.91,427.69 L227.03,428.79 L227.14,429.73 L227.26,430.62 L227.37,432.19 L227.49,432.94 L227.60,434.20 Z" fill="#9ed0e1" stroke="none"/>
<path d="M176.00,434.20 C176.33,431.83 177.33,425.70 178.00,420.00 C178.67,414.30 179.42,405.83 180.00,400.00 C180.58,394.17 181.03,390.00 181.50,385.00 C181.97,380.00 182.42,373.60 182.80,370.00 C183.18,366.40 183.47,363.73 183.80,363.40 C184.13,363.07 184.43,365.23 184.80,368.00 C185.17,370.77 185.60,376.00 186.00,380.00 C186.40,384.00 186.80,388.00 187.20,392.00 C187.60,396.00 188.02,399.33 188.40,404.00 C188.78,408.67 189.12,414.97 189.50,420.00 C189.88,425.03 190.50,431.83 190.70,434.20 Z" fill="#b2ffa6" stroke="none" style="mix-blend-mode:multiply"/>
<path d="M217.60,434.20 C217.87,431.83 218.68,425.03 219.20,420.00 C219.72,414.97 220.23,409.83 220.70,404.00 C221.17,398.17 221.60,390.67 222.00,385.00 C222.40,379.33 222.80,373.35 223.10,370.00 C223.40,366.65 223.57,364.57 223.80,364.90 C224.03,365.23 224.25,368.02 224.50,372.00 C224.75,375.98 225.05,383.30 225.30,388.80 C225.55,394.30 225.75,399.37 226.00,405.00 C226.25,410.63 226.50,417.73 226.80,422.60 C227.10,427.47 227.63,432.27 227.80,434.20 Z" fill="#4b004b" stroke="none"/>
<path d="M217.60,434.20 C217.87,431.83 218.68,425.03 219.20,420.00 C219.72,414.97 220.23,409.83 220.70,404.00 C221.17,398.17 221.60,390.67 222.00,385.00 C222.40,379.33 222.80,373.35 223.10,370.00 C223.40,366.65 223.57,364.57 223.80,364.90 C224.03,365.23 224.25,368.02 224.50,372.00 C224.75,375.98 225.05,383.30 225.30,388.80 C225.55,394.30 225.75,399.37 226.00,405.00 C226.25,410.63 226.50,417.73 226.80,422.60 C227.10,427.47 227.63,432.27 227.80,434.20 Z" fill="none" stroke="#e00020" stroke-width="1.1" stroke-dasharray="1.2,1.2"/>
<path d="M217.60,434.20 C217.87,431.83 218.68,425.03 219.20,420.00 C219.72,414.97 220.23,409.83 220.70,404.00 C221.17,398.17 221.60,390.67 222.00,385.00 C222.40,379.33 222.80,373.35 223.10,370.00 C223.40,366.65 223.57,364.57 223.80,364.90 C224.03,365.23 224.25,368.02 224.50,372.00 C224.75,375.98 225.05,383.30 225.30,388.80 C225.55,394.30 225.75,399.37 226.00,405.00 C226.25,410.63 226.50,417.73 226.80,422.60 C227.10,427.47 227.63,432.27 227.80,434.20 Z" fill="none" stroke="#2020e0" stroke-width="1.1" stroke-dasharray="1.2,1.2" stroke-dashoffset="1.2"/>
<path d="M176.00,434.20 C176.33,431.83 177.33,425.70 178.00,420.00 C178.67,414.30 179.42,405.83 180.00,400.00 C180.58,394.17 181.03,390.00 181.50,385.00 C181.97,380.00 182.42,373.60 182.80,370.00 C183.18,366.40 183.47,363.73 183.80,363.40 C184.13,363.07 184.43,365.23 184.80,368.00 C185.17,370.77 185.60,376.00 186.00,380.00 C186.40,384.00 186.80,388.00 187.20,392.00 C187.60,396.00 188.02,399.33 188.40,404.00 C188.78,408.67 189.12,414.97 189.50,420.00 C189.88,425.03 190.50,431.83 190.70,434.20 Z" fill="none" stroke="#000" stroke-width="1.25" stroke-dasharray="1.3,1.1"/>
<path d="M185.50,434.20 L185.56,432.88 L185.62,432.12 L185.69,430.88 L185.75,430.05 L185.81,429.01 L185.88,427.39 L185.94,426.28 L186.00,426.04 L186.05,424.43 L186.10,423.38 L186.14,423.11 L186.19,421.56 L186.24,420.90 L186.29,419.51 L186.34,418.64 L186.38,417.13 L186.43,416.58 L186.48,415.79 L186.53,414.42 L186.58,413.61 L186.62,412.51 L186.67,410.87 L186.72,410.54 L186.77,409.34 L186.82,408.03 L186.86,406.73 L186.91,406.53 L186.96,405.11 L187.01,404.33 L187.06,403.46 L187.10,402.27 L187.15,401.45 L187.20,399.89 L187.27,399.30 L187.35,397.94 L187.42,397.44 L187.50,396.38 L187.57,394.60 L187.65,393.64 L187.72,392.72 L187.80,392.47 L187.88,390.94 L187.95,390.13 L188.03,388.80 L188.10,388.01 L188.18,386.89 L188.25,385.85 L188.33,385.09 L188.40,384.08 L188.60,383.28 L188.80,381.93 L189.00,381.05 L189.20,379.86 L189.41,378.89 L189.63,377.47 L189.84,375.86 L190.06,375.46 L190.27,374.46 L190.49,373.30 L190.70,371.87 L191.50,371.21 L191.75,371.74 L192.00,373.40 L192.25,374.17 L192.50,374.92 L192.75,375.73 L193.00,377.55 L193.15,378.69 L193.30,378.79 L193.45,380.50 L193.60,381.11 L193.75,381.85 L193.90,382.99 L194.05,384.47 L194.20,385.57 L194.35,385.74 L194.50,387.31 L194.88,387.69 L195.25,389.32 L195.62,389.88 L196.00,391.38 L196.15,392.54 L196.29,393.11 L196.44,394.66 L196.58,395.03 L196.73,395.85 L196.87,397.43 L197.02,397.91 L197.16,399.13 L197.31,400.40 L197.45,401.66 L197.60,402.26 L197.74,403.14 L197.88,404.96 L198.02,405.40 L198.16,407.04 L198.31,407.97 L198.45,408.44 L198.59,409.52 L198.73,410.57 L198.87,411.69 L199.01,412.64 L199.15,413.59 L199.29,414.65 L199.44,415.96 L199.58,416.52 L199.72,417.44 L199.86,418.73 L200.00,419.24 L200.38,420.26 L200.75,421.90 L201.12,422.41 L201.50,423.40 L201.88,423.82 L202.25,425.19 L202.62,426.32 L203.00,426.72 L204.00,426.82 L205.00,426.33 L206.00,425.26 L206.36,424.88 L206.71,423.78 L207.07,423.05 L207.42,421.77 L207.78,421.18 L208.13,420.27 L208.49,418.61 L208.84,417.71 L209.20,417.38 L209.50,416.66 L209.80,414.95 L210.10,414.16 L210.40,413.29 L210.70,412.02 L211.00,411.06 L211.30,410.01 L211.60,409.07 L211.90,408.30 L212.20,407.00 L212.43,406.08 L212.66,405.47 L212.89,403.73 L213.12,403.27 L213.35,402.44 L213.58,401.01 L213.81,399.92 L214.04,399.50 L214.27,397.94 L214.50,396.89 L215.25,396.04 L216.00,395.20 L216.80,395.34 L217.60,396.29 L218.40,397.03 L220.00,398.33 L220.25,396.91 L220.50,396.29 L220.75,394.57 L221.00,393.70 L221.25,392.98 L221.50,392.18 L223.00,390.95 L223.21,391.73 L223.43,392.62 L223.64,394.03 L223.86,394.69 L224.07,396.31 L224.29,397.34 L224.50,397.68 L224.57,398.80 L224.64,400.35 L224.71,401.21 L224.79,402.40 L224.86,402.96 L224.93,403.77 L225.00,404.96 L225.07,406.48 L225.14,406.99 L225.21,408.08 L225.29,409.18 L225.36,410.21 L225.43,411.22 L225.50,412.75 L225.57,413.01 L225.64,413.89 L225.71,415.85 L225.79,416.81 L225.86,417.94 L225.93,418.41 L226.00,419.50 L226.11,421.00 L226.23,422.03 L226.34,422.37 L226.46,423.95 L226.57,425.09 L226.69,425.96 L226.80,426.87 L226.91,427.69 L227.03,428.79 L227.14,429.73 L227.26,430.62 L227.37,432.19 L227.49,432.94 L227.60,434.20 Z" fill="none" stroke="#000" stroke-width="1.35" stroke-linejoin="round"/>
<rect x="164.5" y="360.8" width="75.0" height="73.0" fill="none" stroke="#000" stroke-width="1.5"/>
<line x1="157.30" y1="445.50" x2="157.30" y2="410.10" stroke="#000" stroke-width="1.3" />
<path d="M154.70000000000002,411.6 L157.3,407.1 L159.9,411.6 Z" fill="#000"/>
<line x1="156.70" y1="445.50" x2="191.80" y2="445.50" stroke="#000" stroke-width="1.3" />
<path d="M190.3,442.9 L194.8,445.5 L190.3,448.1 Z" fill="#000"/>
<text transform="translate(143.10,429.50) rotate(-90)" stroke="#000" stroke-width="0.2" font-size="8.99" text-anchor="middle" textLength="48" lengthAdjust="spacingAndGlyphs">Normalized</text>
<text transform="translate(154.60,429.50) rotate(-90)" stroke="#000" stroke-width="0.2" font-size="8.99" text-anchor="middle" textLength="26" lengthAdjust="spacingAndGlyphs">counts</text>
<text x="160.20" y="455.80" font-size="8.99" stroke="#000" stroke-width="0.2" fill="#000" textLength="25.90" lengthAdjust="spacingAndGlyphs" >TMRE</text>
<rect x="245" y="360.7" width="8.2" height="8.9" fill="#b2ffa6" stroke="#000" stroke-width="1" stroke-dasharray="2,1.5"/>
<rect x="245" y="373.4" width="8.2" height="8.8" fill="#d00018" stroke="#000" stroke-width="1" stroke-dasharray="2,1.5"/>
<rect x="245" y="385.7" width="8.2" height="8.8" fill="#9ed0e1" stroke="#000" stroke-width="1.1"/>
<text x="255.50" y="368.05" font-size="8.26" stroke="#000" stroke-width="0.2" fill="#000" textLength="34.70" lengthAdjust="spacingAndGlyphs" >Unstained</text>
<text x="255.50" y="379.75" font-size="8.26" stroke="#000" stroke-width="0.2" fill="#000" textLength="23.30" lengthAdjust="spacingAndGlyphs" >DMSO</text>
<text x="255.50" y="392.05" font-size="8.26" stroke="#000" stroke-width="0.2" fill="#000" textLength="27.10" lengthAdjust="spacingAndGlyphs" >MB1-47</text>
<text x="305.60" y="338.15" font-size="15.94" text-anchor="middle" font-weight="bold" fill="#000" >E</text>
<rect x="348.00" y="400.20" width="14.0" height="45.00" fill="#c80014"/>
<circle cx="349.80" cy="398.50" r="1.75" fill="#e00010" stroke="#000" stroke-width="0.7"/>
<circle cx="349.80" cy="402.10" r="1.75" fill="#e00010" stroke="#000" stroke-width="0.7"/>
<circle cx="353.40" cy="400.30" r="1.75" fill="#e00010" stroke="#000" stroke-width="0.7"/>
<circle cx="357.00" cy="400.20" r="1.75" fill="#e00010" stroke="#000" stroke-width="0.7"/>
<circle cx="360.40" cy="400.50" r="1.75" fill="#e00010" stroke="#000" stroke-width="0.7"/>
<line x1="355.00" y1="445.20" x2="355.00" y2="448.00" stroke="#000" stroke-width="1.1" />
<rect x="369.00" y="433.00" width="14.0" height="12.20" fill="#0033b0"/>
<line x1="376.00" y1="432.60" x2="376.00" y2="433.00" stroke="#000" stroke-width="1.2" />
<line x1="373.40" y1="432.60" x2="378.60" y2="432.60" stroke="#000" stroke-width="1.2" />
<circle cx="370.70" cy="433.50" r="1.75" fill="#1f3fd0" stroke="#000" stroke-width="0.7"/>
<circle cx="381.30" cy="433.50" r="1.75" fill="#1f3fd0" stroke="#000" stroke-width="0.7"/>
<circle cx="375.80" cy="437.20" r="1.75" fill="#1f3fd0" stroke="#000" stroke-width="0.7"/>
<line x1="376.00" y1="445.20" x2="376.00" y2="448.00" stroke="#000" stroke-width="1.1" />
<rect x="389.80" y="416.00" width="14.0" height="29.20" fill="#c80014"/>
<circle cx="391.80" cy="416.40" r="1.75" fill="#e00010" stroke="#000" stroke-width="0.7"/>
<circle cx="396.50" cy="415.20" r="1.75" fill="#e00010" stroke="#000" stroke-width="0.7"/>
<circle cx="401.40" cy="416.20" r="1.75" fill="#e00010" stroke="#000" stroke-width="0.7"/>
<line x1="396.80" y1="445.20" x2="396.80" y2="448.00" stroke="#000" stroke-width="1.1" />
<rect x="410.50" y="422.50" width="14.0" height="22.70" fill="#0033b0"/>
<line x1="417.50" y1="418.60" x2="417.50" y2="422.50" stroke="#000" stroke-width="1.2" />
<line x1="414.90" y1="418.60" x2="420.10" y2="418.60" stroke="#000" stroke-width="1.2" />
<circle cx="412.90" cy="423.40" r="1.75" fill="#1f3fd0" stroke="#000" stroke-width="0.7"/>
<circle cx="422.50" cy="423.40" r="1.75" fill="#1f3fd0" stroke="#000" stroke-width="0.7"/>
<circle cx="417.40" cy="418.60" r="1.75" fill="#1f3fd0" stroke="#000" stroke-width="0.7"/>
<line x1="417.50" y1="445.20" x2="417.50" y2="448.00" stroke="#000" stroke-width="1.1" />
<rect x="431.40" y="364.60" width="14.0" height="80.60" fill="#c80014"/>
<line x1="438.40" y1="357.40" x2="438.40" y2="364.60" stroke="#000" stroke-width="1.2" />
<line x1="435.80" y1="357.40" x2="441.00" y2="357.40" stroke="#000" stroke-width="1.2" />
<circle cx="433.60" cy="365.00" r="1.75" fill="#e00010" stroke="#000" stroke-width="0.7"/>
<circle cx="443.60" cy="365.00" r="1.75" fill="#e00010" stroke="#000" stroke-width="0.7"/>
<circle cx="438.60" cy="358.00" r="1.75" fill="#e00010" stroke="#000" stroke-width="0.7"/>
<circle cx="438.90" cy="365.40" r="1.75" fill="#e00010" stroke="#000" stroke-width="0.7"/>
<line x1="438.40" y1="445.20" x2="438.40" y2="448.00" stroke="#000" stroke-width="1.1" />
<rect x="452.60" y="441.50" width="14.0" height="3.70" fill="#0033b0"/>
<line x1="459.60" y1="440.00" x2="459.60" y2="441.50" stroke="#000" stroke-width="1.2" />
<line x1="457.00" y1="440.00" x2="462.20" y2="440.00" stroke="#000" stroke-width="1.2" />
<circle cx="455.60" cy="442.70" r="1.75" fill="#1f3fd0" stroke="#000" stroke-width="0.7"/>
<circle cx="463.80" cy="442.70" r="1.75" fill="#1f3fd0" stroke="#000" stroke-width="0.7"/>
<circle cx="459.60" cy="440.30" r="1.75" fill="#1f3fd0" stroke="#000" stroke-width="0.7"/>
<line x1="459.60" y1="445.20" x2="459.60" y2="448.00" stroke="#000" stroke-width="1.1" />
<rect x="472.80" y="368.10" width="14.0" height="77.10" fill="#c80014"/>
<line x1="479.80" y1="361.80" x2="479.80" y2="368.10" stroke="#000" stroke-width="1.2" />
<line x1="477.20" y1="361.80" x2="482.40" y2="361.80" stroke="#000" stroke-width="1.2" />
<circle cx="475.00" cy="368.50" r="1.75" fill="#e00010" stroke="#000" stroke-width="0.7"/>
<circle cx="485.00" cy="368.50" r="1.75" fill="#e00010" stroke="#000" stroke-width="0.7"/>
<circle cx="480.00" cy="361.80" r="1.75" fill="#e00010" stroke="#000" stroke-width="0.7"/>
<circle cx="480.20" cy="368.70" r="1.75" fill="#e00010" stroke="#000" stroke-width="0.7"/>
<line x1="479.80" y1="445.20" x2="479.80" y2="448.00" stroke="#000" stroke-width="1.1" />
<rect x="494.20" y="442.40" width="14.0" height="2.80" fill="#0033b0"/>
<circle cx="497.20" cy="443.20" r="1.75" fill="#1f3fd0" stroke="#000" stroke-width="0.7"/>
<circle cx="505.40" cy="443.20" r="1.75" fill="#1f3fd0" stroke="#000" stroke-width="0.7"/>
<circle cx="501.20" cy="442.00" r="1.75" fill="#1f3fd0" stroke="#000" stroke-width="0.7"/>
<line x1="501.20" y1="445.20" x2="501.20" y2="448.00" stroke="#000" stroke-width="1.1" />
<line x1="341.10" y1="345.10" x2="341.10" y2="445.80" stroke="#000" stroke-width="1.4" />
<line x1="340.50" y1="445.20" x2="514.70" y2="445.20" stroke="#000" stroke-width="1.4" />
<line x1="335.80" y1="445.20" x2="341.10" y2="445.20" stroke="#000" stroke-width="1.3" />
<text x="333.60" y="447.90" font-size="7.83" text-anchor="end" stroke="#000" stroke-width="0.2" fill="#000" >0</text>
<line x1="335.80" y1="412.03" x2="341.10" y2="412.03" stroke="#000" stroke-width="1.3" />
<text x="333.60" y="414.73" font-size="7.83" text-anchor="end" stroke="#000" stroke-width="0.2" fill="#000" >8</text>
<line x1="335.80" y1="378.87" x2="341.10" y2="378.87" stroke="#000" stroke-width="1.3" />
<text x="333.60" y="381.57" font-size="7.83" text-anchor="end" stroke="#000" stroke-width="0.2" fill="#000" >16</text>
<line x1="335.80" y1="345.70" x2="341.10" y2="345.70" stroke="#000" stroke-width="1.3" />
<text x="333.60" y="348.40" font-size="7.83" text-anchor="end" stroke="#000" stroke-width="0.2" fill="#000" >24</text>
<text transform="translate(320.0,394.6) rotate(-90)" stroke="#000" stroke-width="0.2" font-size="8.70" text-anchor="middle" textLength="75" lengthAdjust="spacingAndGlyphs">TMRE (MFI (x10<tspan font-size="4.2" dy="-2.6">3</tspan><tspan dy="2.6">))</tspan></text>
<rect x="343.9" y="346.1" width="5.9" height="6.0" fill="#c80014"/>
<rect x="343.9" y="355.2" width="5.9" height="5.6" fill="#0033b0"/>
<text x="352.00" y="352.70" font-size="8.70" stroke="#000" stroke-width="0.2" fill="#000" textLength="27.40" lengthAdjust="spacingAndGlyphs" >DMSO</text>
<text x="352.00" y="362.20" font-size="8.70" stroke="#000" stroke-width="0.2" fill="#000" textLength="32.40" lengthAdjust="spacingAndGlyphs" >MB1-47</text>
<text x="347.80" y="458.90" font-size="8.70" stroke="#000" stroke-width="0.2" fill="#000" textLength="31.10" lengthAdjust="spacingAndGlyphs" >DND41</text>
<text x="388.40" y="458.90" font-size="8.70" stroke="#000" stroke-width="0.2" fill="#000" textLength="37.20" lengthAdjust="spacingAndGlyphs" >HPB-ALL</text>
<text x="432.80" y="458.90" font-size="8.70" stroke="#000" stroke-width="0.2" fill="#000" textLength="33.70" lengthAdjust="spacingAndGlyphs" >JURKAT</text>
<text x="475.20" y="458.90" font-size="8.70" stroke="#000" stroke-width="0.2" fill="#000" textLength="32.80" lengthAdjust="spacingAndGlyphs" >MOLT-3</text>
<line x1="354.10" y1="394.60" x2="377.20" y2="394.60" stroke="#000" stroke-width="1.3" />
<polygon points="361.45,387.50 362.01,388.93 363.54,389.02 362.35,389.99 362.74,391.48 361.45,390.65 360.16,391.48 360.55,389.99 359.36,389.02 360.89,388.93" fill="#000"/>
<polygon points="365.65,387.50 366.21,388.93 367.74,389.02 366.55,389.99 366.94,391.48 365.65,390.65 364.36,391.48 364.75,389.99 363.56,389.02 365.09,388.93" fill="#000"/>
<polygon points="369.85,387.50 370.41,388.93 371.94,389.02 370.75,389.99 371.14,391.48 369.85,390.65 368.56,391.48 368.95,389.99 367.76,389.02 369.29,388.93" fill="#000"/>
<line x1="395.80" y1="410.60" x2="418.70" y2="410.60" stroke="#000" stroke-width="1.3" />
<polygon points="407.25,403.50 407.81,404.93 409.34,405.02 408.15,405.99 408.54,407.48 407.25,406.65 405.96,407.48 406.35,405.99 405.16,405.02 406.69,404.93" fill="#000"/>
<line x1="437.40" y1="353.80" x2="460.00" y2="353.80" stroke="#000" stroke-width="1.3" />
<polygon points="444.50,346.70 445.06,348.13 446.59,348.22 445.40,349.19 445.79,350.68 444.50,349.85 443.21,350.68 443.60,349.19 442.41,348.22 443.94,348.13" fill="#000"/>
<polygon points="448.70,346.70 449.26,348.13 450.79,348.22 449.60,349.19 449.99,350.68 448.70,349.85 447.41,350.68 447.80,349.19 446.61,348.22 448.14,348.13" fill="#000"/>
<polygon points="452.90,346.70 453.46,348.13 454.99,348.22 453.80,349.19 454.19,350.68 452.90,349.85 451.61,350.68 452.00,349.19 450.81,348.22 452.34,348.13" fill="#000"/>
<line x1="479.20" y1="358.60" x2="501.50" y2="358.60" stroke="#000" stroke-width="1.3" />
<polygon points="486.15,351.50 486.71,352.93 488.24,353.02 487.05,353.99 487.44,355.48 486.15,354.65 484.86,355.48 485.25,353.99 484.06,353.02 485.59,352.93" fill="#000"/>
<polygon points="490.35,351.50 490.91,352.93 492.44,353.02 491.25,353.99 491.64,355.48 490.35,354.65 489.06,355.48 489.45,353.99 488.26,353.02 489.79,352.93" fill="#000"/>
<polygon points="494.55,351.50 495.11,352.93 496.64,353.02 495.45,353.99 495.84,355.48 494.55,354.65 493.26,355.48 493.65,353.99 492.46,353.02 493.99,352.93" fill="#000"/>
<text x="12.00" y="497.20" font-size="15.94" text-anchor="middle" font-weight="bold" fill="#000" >F</text>
<line x1="75.30" y1="506.30" x2="75.30" y2="619.90" stroke="#222" stroke-width="0.9" stroke-dasharray="3,2.2"/>
<line x1="106.00" y1="506.30" x2="106.00" y2="619.90" stroke="#222" stroke-width="0.9" stroke-dasharray="3,2.2"/>
<line x1="135.80" y1="507.30" x2="135.80" y2="619.90" stroke="#222" stroke-width="0.9" stroke-dasharray="3,2.2"/>
<line x1="54.78" y1="592.28" x2="54.78" y2="597.09" stroke="#000" stroke-width="1.1" />
<line x1="52.38" y1="592.28" x2="57.18" y2="592.28" stroke="#000" stroke-width="1.1" />
<line x1="52.38" y1="597.09" x2="57.18" y2="597.09" stroke="#000" stroke-width="1.1" />
<line x1="64.67" y1="590.06" x2="64.67" y2="600.65" stroke="#000" stroke-width="1.1" />
<line x1="62.27" y1="590.06" x2="67.07" y2="590.06" stroke="#000" stroke-width="1.1" />
<line x1="62.27" y1="600.65" x2="67.07" y2="600.65" stroke="#000" stroke-width="1.1" />
<line x1="74.91" y1="589.10" x2="74.91" y2="599.69" stroke="#000" stroke-width="1.1" />
<line x1="72.51" y1="589.10" x2="77.31" y2="589.10" stroke="#000" stroke-width="1.1" />
<line x1="72.51" y1="599.69" x2="77.31" y2="599.69" stroke="#000" stroke-width="1.1" />
<line x1="85.27" y1="611.53" x2="85.27" y2="613.84" stroke="#000" stroke-width="1.1" />
<line x1="82.87" y1="611.53" x2="87.67" y2="611.53" stroke="#000" stroke-width="1.1" />
<line x1="82.87" y1="613.84" x2="87.67" y2="613.84" stroke="#000" stroke-width="1.1" />
<line x1="95.04" y1="612.20" x2="95.04" y2="614.12" stroke="#000" stroke-width="1.1" />
<line x1="92.64" y1="612.20" x2="97.44" y2="612.20" stroke="#000" stroke-width="1.1" />
<line x1="92.64" y1="614.12" x2="97.44" y2="614.12" stroke="#000" stroke-width="1.1" />
<line x1="104.92" y1="612.01" x2="104.92" y2="613.93" stroke="#000" stroke-width="1.1" />
<line x1="102.52" y1="612.01" x2="107.32" y2="612.01" stroke="#000" stroke-width="1.1" />
<line x1="102.52" y1="613.93" x2="107.32" y2="613.93" stroke="#000" stroke-width="1.1" />
<line x1="115.28" y1="545.60" x2="115.28" y2="564.85" stroke="#000" stroke-width="1.1" />
<line x1="112.88" y1="545.60" x2="117.68" y2="545.60" stroke="#000" stroke-width="1.1" />
<line x1="112.88" y1="564.85" x2="117.68" y2="564.85" stroke="#000" stroke-width="1.1" />
<line x1="125.17" y1="548.96" x2="125.17" y2="573.03" stroke="#000" stroke-width="1.1" />
<line x1="122.77" y1="548.96" x2="127.57" y2="548.96" stroke="#000" stroke-width="1.1" />
<line x1="122.77" y1="573.03" x2="127.57" y2="573.03" stroke="#000" stroke-width="1.1" />
<line x1="135.29" y1="551.47" x2="135.29" y2="584.19" stroke="#000" stroke-width="1.1" />
<line x1="132.89" y1="551.47" x2="137.69" y2="551.47" stroke="#000" stroke-width="1.1" />
<line x1="132.89" y1="584.19" x2="137.69" y2="584.19" stroke="#000" stroke-width="1.1" />
<line x1="146.35" y1="617.88" x2="146.35" y2="619.42" stroke="#000" stroke-width="1.1" />
<line x1="143.95" y1="617.88" x2="148.75" y2="617.88" stroke="#000" stroke-width="1.1" />
<line x1="143.95" y1="619.42" x2="148.75" y2="619.42" stroke="#000" stroke-width="1.1" />
<line x1="155.77" y1="616.72" x2="155.77" y2="618.26" stroke="#000" stroke-width="1.1" />
<line x1="153.37" y1="616.72" x2="158.17" y2="616.72" stroke="#000" stroke-width="1.1" />
<line x1="153.37" y1="618.26" x2="158.17" y2="618.26" stroke="#000" stroke-width="1.1" />
<line x1="165.19" y1="616.72" x2="165.19" y2="618.26" stroke="#000" stroke-width="1.1" />
<line x1="162.79" y1="616.72" x2="167.59" y2="616.72" stroke="#000" stroke-width="1.1" />
<line x1="162.79" y1="618.26" x2="167.59" y2="618.26" stroke="#000" stroke-width="1.1" />
<line x1="54.78" y1="579.19" x2="54.78" y2="586.50" stroke="#000" stroke-width="1.1" />
<line x1="52.38" y1="579.19" x2="57.18" y2="579.19" stroke="#000" stroke-width="1.1" />
<line x1="52.38" y1="586.50" x2="57.18" y2="586.50" stroke="#000" stroke-width="1.1" />
<line x1="64.67" y1="579.19" x2="64.67" y2="586.50" stroke="#000" stroke-width="1.1" />
<line x1="62.27" y1="579.19" x2="67.07" y2="579.19" stroke="#000" stroke-width="1.1" />
<line x1="62.27" y1="586.50" x2="67.07" y2="586.50" stroke="#000" stroke-width="1.1" />
<line x1="74.91" y1="578.70" x2="74.91" y2="586.40" stroke="#000" stroke-width="1.1" />
<line x1="72.51" y1="578.70" x2="77.31" y2="578.70" stroke="#000" stroke-width="1.1" />
<line x1="72.51" y1="586.40" x2="77.31" y2="586.40" stroke="#000" stroke-width="1.1" />
<line x1="85.27" y1="609.31" x2="85.27" y2="612.20" stroke="#000" stroke-width="1.1" />
<line x1="82.87" y1="609.31" x2="87.67" y2="609.31" stroke="#000" stroke-width="1.1" />
<line x1="82.87" y1="612.20" x2="87.67" y2="612.20" stroke="#000" stroke-width="1.1" />
<line x1="95.04" y1="609.60" x2="95.04" y2="611.91" stroke="#000" stroke-width="1.1" />
<line x1="92.64" y1="609.60" x2="97.44" y2="609.60" stroke="#000" stroke-width="1.1" />
<line x1="92.64" y1="611.91" x2="97.44" y2="611.91" stroke="#000" stroke-width="1.1" />
<line x1="104.92" y1="609.60" x2="104.92" y2="611.91" stroke="#000" stroke-width="1.1" />
<line x1="102.52" y1="609.60" x2="107.32" y2="609.60" stroke="#000" stroke-width="1.1" />
<line x1="102.52" y1="611.91" x2="107.32" y2="611.91" stroke="#000" stroke-width="1.1" />
<line x1="115.28" y1="526.54" x2="115.28" y2="556.38" stroke="#000" stroke-width="1.1" />
<line x1="112.88" y1="526.54" x2="117.68" y2="526.54" stroke="#000" stroke-width="1.1" />
<line x1="112.88" y1="556.38" x2="117.68" y2="556.38" stroke="#000" stroke-width="1.1" />
<line x1="125.17" y1="533.66" x2="125.17" y2="572.16" stroke="#000" stroke-width="1.1" />
<line x1="122.77" y1="533.66" x2="127.57" y2="533.66" stroke="#000" stroke-width="1.1" />
<line x1="122.77" y1="572.16" x2="127.57" y2="572.16" stroke="#000" stroke-width="1.1" />
<line x1="135.29" y1="558.20" x2="135.29" y2="577.45" stroke="#000" stroke-width="1.1" />
<line x1="132.89" y1="558.20" x2="137.69" y2="558.20" stroke="#000" stroke-width="1.1" />
<line x1="132.89" y1="577.45" x2="137.69" y2="577.45" stroke="#000" stroke-width="1.1" />
<line x1="146.35" y1="615.47" x2="146.35" y2="617.40" stroke="#000" stroke-width="1.1" />
<line x1="143.95" y1="615.47" x2="148.75" y2="615.47" stroke="#000" stroke-width="1.1" />
<line x1="143.95" y1="617.40" x2="148.75" y2="617.40" stroke="#000" stroke-width="1.1" />
<line x1="155.77" y1="614.61" x2="155.77" y2="616.53" stroke="#000" stroke-width="1.1" />
<line x1="153.37" y1="614.61" x2="158.17" y2="614.61" stroke="#000" stroke-width="1.1" />
<line x1="153.37" y1="616.53" x2="158.17" y2="616.53" stroke="#000" stroke-width="1.1" />
<line x1="165.19" y1="614.61" x2="165.19" y2="616.53" stroke="#000" stroke-width="1.1" />
<line x1="162.79" y1="614.61" x2="167.59" y2="614.61" stroke="#000" stroke-width="1.1" />
<line x1="162.79" y1="616.53" x2="167.59" y2="616.53" stroke="#000" stroke-width="1.1" />
<polyline points="54.78,582.84 64.67,582.84 74.91,582.55 85.27,610.76 95.04,610.76 104.92,610.76 115.28,541.46 125.17,552.91 135.29,567.83 146.35,616.43 155.77,615.57 165.19,615.57" fill="none" stroke="#0a3cc8" stroke-width="1.8"/>
<polyline points="54.78,594.68 64.67,595.36 74.91,594.39 85.27,612.68 95.04,613.16 104.92,612.97 115.28,555.22 125.17,561.00 135.29,567.83 146.35,618.65 155.77,617.49 165.19,617.49" fill="none" stroke="#d8001a" stroke-width="1.8"/>
<rect x="51.68" y="579.74" width="6.2" height="6.2" fill="#0a3cc8"/>
<rect x="61.57" y="579.74" width="6.2" height="6.2" fill="#0a3cc8"/>
<rect x="71.81" y="579.45" width="6.2" height="6.2" fill="#0a3cc8"/>
<rect x="82.17" y="607.66" width="6.2" height="6.2" fill="#0a3cc8"/>
<rect x="91.94" y="607.66" width="6.2" height="6.2" fill="#0a3cc8"/>
<rect x="101.82" y="607.66" width="6.2" height="6.2" fill="#0a3cc8"/>
<rect x="112.18" y="538.36" width="6.2" height="6.2" fill="#0a3cc8"/>
<rect x="122.07" y="549.81" width="6.2" height="6.2" fill="#0a3cc8"/>
<rect x="132.19" y="564.73" width="6.2" height="6.2" fill="#0a3cc8"/>
<rect x="143.25" y="613.33" width="6.2" height="6.2" fill="#0a3cc8"/>
<rect x="152.67" y="612.47" width="6.2" height="6.2" fill="#0a3cc8"/>
<rect x="162.09" y="612.47" width="6.2" height="6.2" fill="#0a3cc8"/>
<circle cx="54.78" cy="594.68" r="3.0" fill="#d8001a"/>
<circle cx="64.67" cy="595.36" r="3.0" fill="#d8001a"/>
<circle cx="74.91" cy="594.39" r="3.0" fill="#d8001a"/>
<circle cx="85.27" cy="612.68" r="3.0" fill="#d8001a"/>
<circle cx="95.04" cy="613.16" r="3.0" fill="#d8001a"/>
<circle cx="104.92" cy="612.97" r="3.0" fill="#d8001a"/>
<circle cx="115.28" cy="555.22" r="3.0" fill="#d8001a"/>
<circle cx="125.17" cy="561.00" r="3.0" fill="#d8001a"/>
<circle cx="135.29" cy="567.83" r="3.0" fill="#d8001a"/>
<circle cx="146.35" cy="618.65" r="3.0" fill="#d8001a"/>
<circle cx="155.77" cy="617.49" r="3.0" fill="#d8001a"/>
<circle cx="165.19" cy="617.49" r="3.0" fill="#d8001a"/>
<line x1="52.90" y1="503.80" x2="52.90" y2="620.60" stroke="#000" stroke-width="1.4" />
<line x1="52.20" y1="619.90" x2="170.80" y2="619.90" stroke="#000" stroke-width="1.4" />
<line x1="49.90" y1="619.90" x2="52.90" y2="619.90" stroke="#000" stroke-width="1.2" />
<text x="44.95" y="622.60" font-size="7.83" stroke="#000" stroke-width="0.2" fill="#000" textLength="4.05" lengthAdjust="spacingAndGlyphs" >0</text>
<line x1="49.90" y1="600.65" x2="52.90" y2="600.65" stroke="#000" stroke-width="1.2" />
<text x="36.85" y="603.35" font-size="7.83" stroke="#000" stroke-width="0.2" fill="#000" textLength="12.15" lengthAdjust="spacingAndGlyphs" >200</text>
<line x1="49.90" y1="581.40" x2="52.90" y2="581.40" stroke="#000" stroke-width="1.2" />
<text x="36.85" y="584.10" font-size="7.83" stroke="#000" stroke-width="0.2" fill="#000" textLength="12.15" lengthAdjust="spacingAndGlyphs" >400</text>
<line x1="49.90" y1="562.15" x2="52.90" y2="562.15" stroke="#000" stroke-width="1.2" />
<text x="36.85" y="564.85" font-size="7.83" stroke="#000" stroke-width="0.2" fill="#000" textLength="12.15" lengthAdjust="spacingAndGlyphs" >600</text>
<line x1="49.90" y1="542.90" x2="52.90" y2="542.90" stroke="#000" stroke-width="1.2" />
<text x="36.85" y="545.60" font-size="7.83" stroke="#000" stroke-width="0.2" fill="#000" textLength="12.15" lengthAdjust="spacingAndGlyphs" >800</text>
<line x1="49.90" y1="523.65" x2="52.90" y2="523.65" stroke="#000" stroke-width="1.2" />
<text x="32.80" y="526.35" font-size="7.83" stroke="#000" stroke-width="0.2" fill="#000" textLength="16.20" lengthAdjust="spacingAndGlyphs" >1000</text>
<line x1="49.90" y1="504.40" x2="52.90" y2="504.40" stroke="#000" stroke-width="1.2" />
<text x="32.80" y="507.10" font-size="7.83" stroke="#000" stroke-width="0.2" fill="#000" textLength="16.20" lengthAdjust="spacingAndGlyphs" >1200</text>
<line x1="52.90" y1="619.90" x2="52.90" y2="622.90" stroke="#000" stroke-width="1.2" />
<text x="52.90" y="630.70" font-size="7.83" text-anchor="middle" stroke="#000" stroke-width="0.2" fill="#000" >0</text>
<line x1="76.44" y1="619.90" x2="76.44" y2="622.90" stroke="#000" stroke-width="1.2" />
<text x="76.44" y="630.70" font-size="7.83" text-anchor="middle" stroke="#000" stroke-width="0.2" fill="#000" >20</text>
<line x1="99.98" y1="619.90" x2="99.98" y2="622.90" stroke="#000" stroke-width="1.2" />
<text x="99.98" y="630.70" font-size="7.83" text-anchor="middle" stroke="#000" stroke-width="0.2" fill="#000" >40</text>
<line x1="123.52" y1="619.90" x2="123.52" y2="622.90" stroke="#000" stroke-width="1.2" />
<text x="123.52" y="630.70" font-size="7.83" text-anchor="middle" stroke="#000" stroke-width="0.2" fill="#000" >60</text>
<line x1="147.06" y1="619.90" x2="147.06" y2="622.90" stroke="#000" stroke-width="1.2" />
<text x="147.06" y="630.70" font-size="7.83" text-anchor="middle" stroke="#000" stroke-width="0.2" fill="#000" >80</text>
<line x1="170.60" y1="619.90" x2="170.60" y2="622.90" stroke="#000" stroke-width="1.2" />
<text x="170.60" y="630.70" font-size="7.83" text-anchor="middle" stroke="#000" stroke-width="0.2" fill="#000" >100</text>
<text x="99.50" y="645.50" font-size="8.99" stroke="#000" stroke-width="0.2" fill="#000" textLength="41.75" lengthAdjust="spacingAndGlyphs" >Time (min)</text>
<text transform="translate(28.3,566.2) rotate(-90)" stroke="#000" stroke-width="0.2" font-size="9.13" text-anchor="middle" textLength="59.5" lengthAdjust="spacingAndGlyphs">OCR (pmol/min)</text>
<text transform="translate(77.8,502.6) rotate(-45)" font-size="7.25" stroke="#000" stroke-width="0.18" textLength="36.5" lengthAdjust="spacingAndGlyphs">Oligomycin</text>
<text transform="translate(106.0,504.8) rotate(-45)" font-size="7.25" stroke="#000" stroke-width="0.18" textLength="46.5" lengthAdjust="spacingAndGlyphs">FCCP/MB1-47</text>
<text transform="translate(135.4,500.2) rotate(-45)" font-size="7.25" stroke="#000" stroke-width="0.18" textLength="37.5" lengthAdjust="spacingAndGlyphs">Rotenone &amp;</text>
<text transform="translate(142.4,506.6) rotate(-45)" font-size="7.25" stroke="#000" stroke-width="0.18" textLength="31.0" lengthAdjust="spacingAndGlyphs">Antimycin</text>
<line x1="156.90" y1="510.00" x2="169.60" y2="510.00" stroke="#d8001a" stroke-width="1.6" />
<circle cx="163.2" cy="510.0" r="2.9" fill="#d8001a"/>
<line x1="156.90" y1="522.20" x2="169.60" y2="522.20" stroke="#0a3cc8" stroke-width="1.6" />
<rect x="160.4" y="519.4" width="5.6" height="5.6" fill="#0a3cc8"/>
<text x="171.00" y="513.80" font-size="8.70" stroke="#000" stroke-width="0.2" fill="#000" textLength="23.40" lengthAdjust="spacingAndGlyphs" >FCCP</text>
<text x="171.00" y="525.80" font-size="8.70" stroke="#000" stroke-width="0.2" fill="#000" textLength="33.00" lengthAdjust="spacingAndGlyphs" >MB1-47</text>
<text x="214.00" y="497.20" font-size="15.94" text-anchor="middle" font-weight="bold" fill="#000" >G</text>
<line x1="252.00" y1="622.00" x2="385.50" y2="506.60" stroke="#000" stroke-width="1.1" stroke-dasharray="3.4,2.4"/>
<path d="M328.54,555.19h2.8M329.94,553.79v2.8M328.94,554.19l2,2M328.94,556.19l2,-2M330.10,553.65h2.8M331.50,552.25v2.8M330.50,552.65l2,2M330.50,554.65l2,-2M340.34,544.96h2.8M341.74,543.56v2.8M340.74,543.96l2,2M340.74,545.96l2,-2M312.20,567.93h2.8M313.60,566.53v2.8M312.60,566.93l2,2M312.60,568.93l2,-2M347.57,536.55h2.8M348.97,535.15v2.8M347.97,535.55l2,2M347.97,537.55l2,-2M299.97,578.01h2.8M301.37,576.61v2.8M300.37,577.01l2,2M300.37,579.01l2,-2M304.90,576.69h2.8M306.30,575.29v2.8M305.30,575.69l2,2M305.30,577.69l2,-2M341.37,541.38h2.8M342.77,539.98v2.8M341.77,540.38l2,2M341.77,542.38l2,-2M332.86,549.56h2.8M334.26,548.16v2.8M333.26,548.56l2,2M333.26,550.56l2,-2M350.02,536.33h2.8M351.42,534.93v2.8M350.42,535.33l2,2M350.42,537.33l2,-2M311.65,568.65h2.8M313.05,567.25v2.8M312.05,567.65l2,2M312.05,569.65l2,-2M320.22,561.75h2.8M321.62,560.35v2.8M320.62,560.75l2,2M320.62,562.75l2,-2M342.90,542.60h2.8M344.30,541.20v2.8M343.30,541.60l2,2M343.30,543.60l2,-2M324.17,559.06h2.8M325.57,557.66v2.8M324.57,558.06l2,2M324.57,560.06l2,-2M309.55,570.55h2.8M310.95,569.15v2.8M309.95,569.55l2,2M309.95,571.55l2,-2M306.64,576.13h2.8M308.04,574.73v2.8M307.04,575.13l2,2M307.04,577.13l2,-2M304.18,575.71h2.8M305.58,574.31v2.8M304.58,574.71l2,2M304.58,576.71l2,-2M308.28,570.26h2.8M309.68,568.86v2.8M308.68,569.26l2,2M308.68,571.26l2,-2M312.47,570.17h2.8M313.87,568.77v2.8M312.87,569.17l2,2M312.87,571.17l2,-2M306.89,573.32h2.8M308.29,571.92v2.8M307.29,572.32l2,2M307.29,574.32l2,-2M340.48,543.55h2.8M341.88,542.15v2.8M340.88,542.55l2,2M340.88,544.55l2,-2M306.59,574.45h2.8M307.99,573.05v2.8M306.99,573.45l2,2M306.99,575.45l2,-2M315.50,565.90h2.8M316.90,564.50v2.8M315.90,564.90l2,2M315.90,566.90l2,-2M316.61,564.37h2.8M318.01,562.97v2.8M317.01,563.37l2,2M317.01,565.37l2,-2M309.40,571.07h2.8M310.80,569.67v2.8M309.80,570.07l2,2M309.80,572.07l2,-2M323.34,559.86h2.8M324.74,558.46v2.8M323.74,558.86l2,2M323.74,560.86l2,-2M343.76,541.47h2.8M345.16,540.07v2.8M344.16,540.47l2,2M344.16,542.47l2,-2M341.22,543.41h2.8M342.62,542.01v2.8M341.62,542.41l2,2M341.62,544.41l2,-2M348.33,538.68h2.8M349.73,537.28v2.8M348.73,537.68l2,2M348.73,539.68l2,-2M330.13,552.35h2.8M331.53,550.95v2.8M330.53,551.35l2,2M330.53,553.35l2,-2M315.28,566.18h2.8M316.68,564.78v2.8M315.68,565.18l2,2M315.68,567.18l2,-2M311.78,567.08h2.8M313.18,565.68v2.8M312.18,566.08l2,2M312.18,568.08l2,-2M311.75,569.95h2.8M313.15,568.55v2.8M312.15,568.95l2,2M312.15,570.95l2,-2M342.24,541.50h2.8M343.64,540.10v2.8M342.64,540.50l2,2M342.64,542.50l2,-2M310.79,570.36h2.8M312.19,568.96v2.8M311.19,569.36l2,2M311.19,571.36l2,-2M303.63,576.29h2.8M305.03,574.89v2.8M304.03,575.29l2,2M304.03,577.29l2,-2M306.37,572.01h2.8M307.77,570.61v2.8M306.77,571.01l2,2M306.77,573.01l2,-2M332.32,550.00h2.8M333.72,548.60v2.8M332.72,549.00l2,2M332.72,551.00l2,-2M302.84,580.62h2.8M304.24,579.22v2.8M303.24,579.62l2,2M303.24,581.62l2,-2M349.16,538.13h2.8M350.56,536.73v2.8M349.56,537.13l2,2M349.56,539.13l2,-2M336.75,546.07h2.8M338.15,544.67v2.8M337.15,545.07l2,2M337.15,547.07l2,-2M307.57,571.28h2.8M308.97,569.88v2.8M307.97,570.28l2,2M307.97,572.28l2,-2M335.02,548.72h2.8M336.42,547.32v2.8M335.42,547.72l2,2M335.42,549.72l2,-2M335.00,550.24h2.8M336.40,548.84v2.8M335.40,549.24l2,2M335.40,551.24l2,-2M339.86,545.16h2.8M341.26,543.76v2.8M340.26,544.16l2,2M340.26,546.16l2,-2M318.33,561.33h2.8M319.73,559.93v2.8M318.73,560.33l2,2M318.73,562.33l2,-2M311.78,572.60h2.8M313.18,571.20v2.8M312.18,571.60l2,2M312.18,573.60l2,-2M319.07,561.80h2.8M320.47,560.40v2.8M319.47,560.80l2,2M319.47,562.80l2,-2M343.15,543.50h2.8M344.55,542.10v2.8M343.55,542.50l2,2M343.55,544.50l2,-2M308.54,569.94h2.8M309.94,568.54v2.8M308.94,568.94l2,2M308.94,570.94l2,-2M323.54,556.05h2.8M324.94,554.65v2.8M323.94,555.05l2,2M323.94,557.05l2,-2M300.24,577.91h2.8M301.64,576.51v2.8M300.64,576.91l2,2M300.64,578.91l2,-2M303.62,577.77h2.8M305.02,576.37v2.8M304.02,576.77l2,2M304.02,578.77l2,-2M344.71,539.76h2.8M346.11,538.36v2.8M345.11,538.76l2,2M345.11,540.76l2,-2M306.76,573.85h2.8M308.16,572.45v2.8M307.16,572.85l2,2M307.16,574.85l2,-2M318.76,561.54h2.8M320.16,560.14v2.8M319.16,560.54l2,2M319.16,562.54l2,-2M308.12,573.28h2.8M309.52,571.88v2.8M308.52,572.28l2,2M308.52,574.28l2,-2M347.76,537.65h2.8M349.16,536.25v2.8M348.16,536.65l2,2M348.16,538.65l2,-2M314.31,566.92h2.8M315.71,565.52v2.8M314.71,565.92l2,2M314.71,567.92l2,-2M324.89,556.83h2.8M326.29,555.43v2.8M325.29,555.83l2,2M325.29,557.83l2,-2M322.91,559.28h2.8M324.31,557.88v2.8M323.31,558.28l2,2M323.31,560.28l2,-2M301.60,576.59h2.8M303.00,575.19v2.8M302.00,575.59l2,2M302.00,577.59l2,-2M340.04,544.90h2.8M341.44,543.50v2.8M340.44,543.90l2,2M340.44,545.90l2,-2M301.35,577.78h2.8M302.75,576.38v2.8M301.75,576.78l2,2M301.75,578.78l2,-2M299.84,577.14h2.8M301.24,575.74v2.8M300.24,576.14l2,2M300.24,578.14l2,-2M332.69,551.02h2.8M334.09,549.62v2.8M333.09,550.02l2,2M333.09,552.02l2,-2M309.74,569.60h2.8M311.14,568.20v2.8M310.14,568.60l2,2M310.14,570.60l2,-2M306.94,572.28h2.8M308.34,570.88v2.8M307.34,571.28l2,2M307.34,573.28l2,-2M304.61,573.64h2.8M306.01,572.24v2.8M305.01,572.64l2,2M305.01,574.64l2,-2M337.45,545.11h2.8M338.85,543.71v2.8M337.85,544.11l2,2M337.85,546.11l2,-2M305.12,575.84h2.8M306.52,574.44v2.8M305.52,574.84l2,2M305.52,576.84l2,-2M305.00,570.93h2.8M306.40,569.53v2.8M305.40,569.93l2,2M305.40,571.93l2,-2M328.96,555.01h2.8M330.36,553.61v2.8M329.36,554.01l2,2M329.36,556.01l2,-2M322.91,558.38h2.8M324.31,556.98v2.8M323.31,557.38l2,2M323.31,559.38l2,-2M340.09,542.70h2.8M341.49,541.30v2.8M340.49,541.70l2,2M340.49,543.70l2,-2M316.32,569.97h2.8M317.72,568.57v2.8M316.72,568.97l2,2M316.72,570.97l2,-2M339.71,543.93h2.8M341.11,542.53v2.8M340.11,542.93l2,2M340.11,544.93l2,-2M318.25,564.24h2.8M319.65,562.84v2.8M318.65,563.24l2,2M318.65,565.24l2,-2M338.41,545.38h2.8M339.81,543.98v2.8M338.81,544.38l2,2M338.81,546.38l2,-2M303.24,575.97h2.8M304.64,574.57v2.8M303.64,574.97l2,2M303.64,576.97l2,-2M339.87,544.94h2.8M341.27,543.54v2.8M340.27,543.94l2,2M340.27,545.94l2,-2M336.40,548.02h2.8M337.80,546.62v2.8M336.80,547.02l2,2M336.80,549.02l2,-2M324.95,557.68h2.8M326.35,556.28v2.8M325.35,556.68l2,2M325.35,558.68l2,-2M308.16,571.27h2.8M309.56,569.87v2.8M308.56,570.27l2,2M308.56,572.27l2,-2M326.36,556.59h2.8M327.76,555.19v2.8M326.76,555.59l2,2M326.76,557.59l2,-2M319.35,563.02h2.8M320.75,561.62v2.8M319.75,562.02l2,2M319.75,564.02l2,-2M314.10,568.86h2.8M315.50,567.46v2.8M314.50,567.86l2,2M314.50,569.86l2,-2M309.40,569.16h2.8M310.80,567.76v2.8M309.80,568.16l2,2M309.80,570.16l2,-2M302.11,578.21h2.8M303.51,576.81v2.8M302.51,577.21l2,2M302.51,579.21l2,-2M339.42,543.39h2.8M340.82,541.99v2.8M339.82,542.39l2,2M339.82,544.39l2,-2M302.73,575.08h2.8M304.13,573.68v2.8M303.13,574.08l2,2M303.13,576.08l2,-2M346.57,538.77h2.8M347.97,537.37v2.8M346.97,537.77l2,2M346.97,539.77l2,-2M306.93,573.93h2.8M308.33,572.53v2.8M307.33,572.93l2,2M307.33,574.93l2,-2M316.65,565.29h2.8M318.05,563.89v2.8M317.05,564.29l2,2M317.05,566.29l2,-2M306.54,573.06h2.8M307.94,571.66v2.8M306.94,572.06l2,2M306.94,574.06l2,-2M302.97,575.25h2.8M304.37,573.85v2.8M303.37,574.25l2,2M303.37,576.25l2,-2M332.16,552.80h2.8M333.56,551.40v2.8M332.56,551.80l2,2M332.56,553.80l2,-2M308.04,571.94h2.8M309.44,570.54v2.8M308.44,570.94l2,2M308.44,572.94l2,-2M321.74,559.30h2.8M323.14,557.90v2.8M322.14,558.30l2,2M322.14,560.30l2,-2M308.73,572.00h2.8M310.13,570.60v2.8M309.13,571.00l2,2M309.13,573.00l2,-2M326.75,556.37h2.8M328.15,554.97v2.8M327.15,555.37l2,2M327.15,557.37l2,-2M311.13,568.52h2.8M312.53,567.12v2.8M311.53,567.52l2,2M311.53,569.52l2,-2M316.00,564.39h2.8M317.40,562.99v2.8M316.40,563.39l2,2M316.40,565.39l2,-2M315.53,566.04h2.8M316.93,564.64v2.8M315.93,565.04l2,2M315.93,567.04l2,-2M311.23,569.09h2.8M312.63,567.69v2.8M311.63,568.09l2,2M311.63,570.09l2,-2M321.12,560.54h2.8M322.52,559.14v2.8M321.52,559.54l2,2M321.52,561.54l2,-2M334.80,549.57h2.8M336.20,548.17v2.8M335.20,548.57l2,2M335.20,550.57l2,-2M345.96,539.71h2.8M347.36,538.31v2.8M346.36,538.71l2,2M346.36,540.71l2,-2M337.14,544.94h2.8M338.54,543.54v2.8M337.54,543.94l2,2M337.54,545.94l2,-2M301.43,577.93h2.8M302.83,576.53v2.8M301.83,576.93l2,2M301.83,578.93l2,-2M325.49,556.10h2.8M326.89,554.70v2.8M325.89,555.10l2,2M325.89,557.10l2,-2M304.02,577.80h2.8M305.42,576.40v2.8M304.42,576.80l2,2M304.42,578.80l2,-2M306.48,576.05h2.8M307.88,574.65v2.8M306.88,575.05l2,2M306.88,577.05l2,-2M338.36,545.34h2.8M339.76,543.94v2.8M338.76,544.34l2,2M338.76,546.34l2,-2M321.52,560.00h2.8M322.92,558.60v2.8M321.92,559.00l2,2M321.92,561.00l2,-2M342.92,542.58h2.8M344.32,541.18v2.8M343.32,541.58l2,2M343.32,543.58l2,-2M320.67,561.30h2.8M322.07,559.90v2.8M321.07,560.30l2,2M321.07,562.30l2,-2M301.36,578.90h2.8M302.76,577.50v2.8M301.76,577.90l2,2M301.76,579.90l2,-2M342.54,541.08h2.8M343.94,539.68v2.8M342.94,540.08l2,2M342.94,542.08l2,-2M326.33,558.12h2.8M327.73,556.72v2.8M326.73,557.12l2,2M326.73,559.12l2,-2M313.34,566.65h2.8M314.74,565.25v2.8M313.74,565.65l2,2M313.74,567.65l2,-2M320.99,562.26h2.8M322.39,560.86v2.8M321.39,561.26l2,2M321.39,563.26l2,-2M338.25,545.65h2.8M339.65,544.25v2.8M338.65,544.65l2,2M338.65,546.65l2,-2M303.55,575.15h2.8M304.95,573.75v2.8M303.95,574.15l2,2M303.95,576.15l2,-2M304.29,572.94h2.8M305.69,571.54v2.8M304.69,571.94l2,2M304.69,573.94l2,-2M313.74,565.76h2.8M315.14,564.36v2.8M314.14,564.76l2,2M314.14,566.76l2,-2M327.97,553.43h2.8M329.37,552.03v2.8M328.37,552.43l2,2M328.37,554.43l2,-2M331.45,550.61h2.8M332.85,549.21v2.8M331.85,549.61l2,2M331.85,551.61l2,-2M300.20,576.78h2.8M301.60,575.38v2.8M300.60,575.78l2,2M300.60,577.78l2,-2M306.86,574.08h2.8M308.26,572.68v2.8M307.26,573.08l2,2M307.26,575.08l2,-2M305.67,574.36h2.8M307.07,572.96v2.8M306.07,573.36l2,2M306.07,575.36l2,-2M326.18,557.61h2.8M327.58,556.21v2.8M326.58,556.61l2,2M326.58,558.61l2,-2M332.00,551.24h2.8M333.40,549.84v2.8M332.40,550.24l2,2M332.40,552.24l2,-2M339.59,547.44h2.8M340.99,546.04v2.8M339.99,546.44l2,2M339.99,548.44l2,-2M308.12,573.10h2.8M309.52,571.70v2.8M308.52,572.10l2,2M308.52,574.10l2,-2M303.50,576.75h2.8M304.90,575.35v2.8M303.90,575.75l2,2M303.90,577.75l2,-2M329.88,552.50h2.8M331.28,551.10v2.8M330.28,551.50l2,2M330.28,553.50l2,-2M328.43,554.25h2.8M329.83,552.85v2.8M328.83,553.25l2,2M328.83,555.25l2,-2M300.41,578.43h2.8M301.81,577.03v2.8M300.81,577.43l2,2M300.81,579.43l2,-2M310.34,566.89h2.8M311.74,565.49v2.8M310.74,565.89l2,2M310.74,567.89l2,-2M303.97,578.08h2.8M305.37,576.68v2.8M304.37,577.08l2,2M304.37,579.08l2,-2M312.97,565.62h2.8M314.37,564.22v2.8M313.37,564.62l2,2M313.37,566.62l2,-2M310.83,566.52h2.8M312.23,565.12v2.8M311.23,565.52l2,2M311.23,567.52l2,-2M324.53,559.69h2.8M325.93,558.29v2.8M324.93,558.69l2,2M324.93,560.69l2,-2M305.17,573.11h2.8M306.57,571.71v2.8M305.57,572.11l2,2M305.57,574.11l2,-2M300.37,577.34h2.8M301.77,575.94v2.8M300.77,576.34l2,2M300.77,578.34l2,-2M333.15,549.35h2.8M334.55,547.95v2.8M333.55,548.35l2,2M333.55,550.35l2,-2M320.86,560.69h2.8M322.26,559.29v2.8M321.26,559.69l2,2M321.26,561.69l2,-2M347.51,537.55h2.8M348.91,536.15v2.8M347.91,536.55l2,2M347.91,538.55l2,-2M313.52,567.30h2.8M314.92,565.90v2.8M313.92,566.30l2,2M313.92,568.30l2,-2M313.03,566.57h2.8M314.43,565.17v2.8M313.43,565.57l2,2M313.43,567.57l2,-2M331.59,551.36h2.8M332.99,549.96v2.8M331.99,550.36l2,2M331.99,552.36l2,-2M316.38,567.84h2.8M317.78,566.44v2.8M316.78,566.84l2,2M316.78,568.84l2,-2M301.20,577.65h2.8M302.60,576.25v2.8M301.60,576.65l2,2M301.60,578.65l2,-2M304.98,573.93h2.8M306.38,572.53v2.8M305.38,572.93l2,2M305.38,574.93l2,-2M308.91,568.26h2.8M310.31,566.86v2.8M309.31,567.26l2,2M309.31,569.26l2,-2M324.45,558.16h2.8M325.85,556.76v2.8M324.85,557.16l2,2M324.85,559.16l2,-2M342.39,542.82h2.8M343.79,541.42v2.8M342.79,541.82l2,2M342.79,543.82l2,-2M331.15,551.81h2.8M332.55,550.41v2.8M331.55,550.81l2,2M331.55,552.81l2,-2M312.95,567.73h2.8M314.35,566.33v2.8M313.35,566.73l2,2M313.35,568.73l2,-2M349.60,535.64h2.8M351.00,534.24v2.8M350.00,534.64l2,2M350.00,536.64l2,-2M345.80,538.38h2.8M347.20,536.98v2.8M346.20,537.38l2,2M346.20,539.38l2,-2M313.79,567.60h2.8M315.19,566.20v2.8M314.19,566.60l2,2M314.19,568.60l2,-2M323.93,557.51h2.8M325.33,556.11v2.8M324.33,556.51l2,2M324.33,558.51l2,-2M304.54,575.56h2.8M305.94,574.16v2.8M304.94,574.56l2,2M304.94,576.56l2,-2M304.02,574.36h2.8M305.42,572.96v2.8M304.42,573.36l2,2M304.42,575.36l2,-2M301.66,575.59h2.8M303.06,574.19v2.8M302.06,574.59l2,2M302.06,576.59l2,-2M305.40,573.32h2.8M306.80,571.92v2.8M305.80,572.32l2,2M305.80,574.32l2,-2M347.51,538.78h2.8M348.91,537.38v2.8M347.91,537.78l2,2M347.91,539.78l2,-2M315.38,565.20h2.8M316.78,563.80v2.8M315.78,564.20l2,2M315.78,566.20l2,-2M345.16,540.10h2.8M346.56,538.70v2.8M345.56,539.10l2,2M345.56,541.10l2,-2M318.00,562.43h2.8M319.40,561.03v2.8M318.40,561.43l2,2M318.40,563.43l2,-2M308.65,571.66h2.8M310.05,570.26v2.8M309.05,570.66l2,2M309.05,572.66l2,-2M329.16,554.89h2.8M330.56,553.49v2.8M329.56,553.89l2,2M329.56,555.89l2,-2M314.93,567.30h2.8M316.33,565.90v2.8M315.33,566.30l2,2M315.33,568.30l2,-2M329.24,555.15h2.8M330.64,553.75v2.8M329.64,554.15l2,2M329.64,556.15l2,-2M302.16,574.69h2.8M303.56,573.29v2.8M302.56,573.69l2,2M302.56,575.69l2,-2M300.53,577.34h2.8M301.93,575.94v2.8M300.93,576.34l2,2M300.93,578.34l2,-2M311.11,571.49h2.8M312.51,570.09v2.8M311.51,570.49l2,2M311.51,572.49l2,-2M313.07,568.25h2.8M314.47,566.85v2.8M313.47,567.25l2,2M313.47,569.25l2,-2M338.11,545.20h2.8M339.51,543.80v2.8M338.51,544.20l2,2M338.51,546.20l2,-2M333.03,548.82h2.8M334.43,547.42v2.8M333.43,547.82l2,2M333.43,549.82l2,-2M335.90,548.73h2.8M337.30,547.33v2.8M336.30,547.73l2,2M336.30,549.73l2,-2M333.67,550.66h2.8M335.07,549.26v2.8M334.07,549.66l2,2M334.07,551.66l2,-2M345.27,541.30h2.8M346.67,539.90v2.8M345.67,540.30l2,2M345.67,542.30l2,-2M335.53,548.27h2.8M336.93,546.87v2.8M335.93,547.27l2,2M335.93,549.27l2,-2M306.40,572.19h2.8M307.80,570.79v2.8M306.80,571.19l2,2M306.80,573.19l2,-2M308.97,571.59h2.8M310.37,570.19v2.8M309.37,570.59l2,2M309.37,572.59l2,-2M315.68,566.86h2.8M317.08,565.46v2.8M316.08,565.86l2,2M316.08,567.86l2,-2M309.84,570.27h2.8M311.24,568.87v2.8M310.24,569.27l2,2M310.24,571.27l2,-2M304.87,570.47h2.8M306.27,569.07v2.8M305.27,569.47l2,2M305.27,571.47l2,-2M302.21,577.50h2.8M303.61,576.10v2.8M302.61,576.50l2,2M302.61,578.50l2,-2M310.28,568.58h2.8M311.68,567.18v2.8M310.68,567.58l2,2M310.68,569.58l2,-2M305.58,575.83h2.8M306.98,574.43v2.8M305.98,574.83l2,2M305.98,576.83l2,-2M327.50,555.33h2.8M328.90,553.93v2.8M327.90,554.33l2,2M327.90,556.33l2,-2M314.18,567.92h2.8M315.58,566.52v2.8M314.58,566.92l2,2M314.58,568.92l2,-2M347.60,536.94h2.8M349.00,535.54v2.8M348.00,535.94l2,2M348.00,537.94l2,-2M314.49,566.60h2.8M315.89,565.20v2.8M314.89,565.60l2,2M314.89,567.60l2,-2M326.54,556.08h2.8M327.94,554.68v2.8M326.94,555.08l2,2M326.94,557.08l2,-2M312.68,569.14h2.8M314.08,567.74v2.8M313.08,568.14l2,2M313.08,570.14l2,-2M339.39,544.10h2.8M340.79,542.70v2.8M339.79,543.10l2,2M339.79,545.10l2,-2M302.36,576.17h2.8M303.76,574.77v2.8M302.76,575.17l2,2M302.76,577.17l2,-2M324.00,554.98h2.8M325.40,553.58v2.8M324.40,553.98l2,2M324.40,555.98l2,-2M309.60,572.77h2.8M311.00,571.37v2.8M310.00,571.77l2,2M310.00,573.77l2,-2M313.13,569.09h2.8M314.53,567.69v2.8M313.53,568.09l2,2M313.53,570.09l2,-2M303.97,574.97h2.8M305.37,573.57v2.8M304.37,573.97l2,2M304.37,575.97l2,-2M324.19,559.30h2.8M325.59,557.90v2.8M324.59,558.30l2,2M324.59,560.30l2,-2M315.14,565.71h2.8M316.54,564.31v2.8M315.54,564.71l2,2M315.54,566.71l2,-2M304.65,574.90h2.8M306.05,573.50v2.8M305.05,573.90l2,2M305.05,575.90l2,-2M327.49,556.69h2.8M328.89,555.29v2.8M327.89,555.69l2,2M327.89,557.69l2,-2M316.21,565.74h2.8M317.61,564.34v2.8M316.61,564.74l2,2M316.61,566.74l2,-2M335.67,547.16h2.8M337.07,545.76v2.8M336.07,546.16l2,2M336.07,548.16l2,-2M303.78,570.57h2.8M305.18,569.17v2.8M304.18,569.57l2,2M304.18,571.57l2,-2M333.42,551.12h2.8M334.82,549.72v2.8M333.82,550.12l2,2M333.82,552.12l2,-2M311.26,567.69h2.8M312.66,566.29v2.8M311.66,566.69l2,2M311.66,568.69l2,-2M315.15,565.91h2.8M316.55,564.51v2.8M315.55,564.91l2,2M315.55,566.91l2,-2M314.37,565.50h2.8M315.77,564.10v2.8M314.77,564.50l2,2M314.77,566.50l2,-2M304.37,572.89h2.8M305.77,571.49v2.8M304.77,571.89l2,2M304.77,573.89l2,-2M302.76,575.87h2.8M304.16,574.47v2.8M303.16,574.87l2,2M303.16,576.87l2,-2M327.91,554.28h2.8M329.31,552.88v2.8M328.31,553.28l2,2M328.31,555.28l2,-2M304.99,574.82h2.8M306.39,573.42v2.8M305.39,573.82l2,2M305.39,575.82l2,-2M336.07,548.41h2.8M337.47,547.01v2.8M336.47,547.41l2,2M336.47,549.41l2,-2M330.23,553.50h2.8M331.63,552.10v2.8M330.63,552.50l2,2M330.63,554.50l2,-2M301.73,576.61h2.8M303.13,575.21v2.8M302.13,575.61l2,2M302.13,577.61l2,-2M320.59,559.24h2.8M321.99,557.84v2.8M320.99,558.24l2,2M320.99,560.24l2,-2M340.97,542.80h2.8M342.37,541.40v2.8M341.37,541.80l2,2M341.37,543.80l2,-2M300.40,577.08h2.8M301.80,575.68v2.8M300.80,576.08l2,2M300.80,578.08l2,-2M338.84,544.12h2.8M340.24,542.72v2.8M339.24,543.12l2,2M339.24,545.12l2,-2M304.71,573.38h2.8M306.11,571.98v2.8M305.11,572.38l2,2M305.11,574.38l2,-2M304.07,571.67h2.8M305.47,570.27v2.8M304.47,570.67l2,2M304.47,572.67l2,-2M331.67,552.92h2.8M333.07,551.52v2.8M332.07,551.92l2,2M332.07,553.92l2,-2M327.40,554.52h2.8M328.80,553.12v2.8M327.80,553.52l2,2M327.80,555.52l2,-2M312.06,570.66h2.8M313.46,569.26v2.8M312.46,569.66l2,2M312.46,571.66l2,-2M343.05,543.18h2.8M344.45,541.78v2.8M343.45,542.18l2,2M343.45,544.18l2,-2M310.50,570.53h2.8M311.90,569.13v2.8M310.90,569.53l2,2M310.90,571.53l2,-2M334.95,547.85h2.8M336.35,546.45v2.8M335.35,546.85l2,2M335.35,548.85l2,-2M324.96,559.98h2.8M326.36,558.58v2.8M325.36,558.98l2,2M325.36,560.98l2,-2M312.50,565.41h2.8M313.90,564.01v2.8M312.90,564.41l2,2M312.90,566.41l2,-2M314.36,569.01h2.8M315.76,567.61v2.8M314.76,568.01l2,2M314.76,570.01l2,-2M331.38,553.63h2.8M332.78,552.23v2.8M331.78,552.63l2,2M331.78,554.63l2,-2M314.17,566.99h2.8M315.57,565.59v2.8M314.57,565.99l2,2M314.57,567.99l2,-2M309.13,570.35h2.8M310.53,568.95v2.8M309.53,569.35l2,2M309.53,571.35l2,-2M305.08,578.94h2.8M306.48,577.54v2.8M305.48,577.94l2,2M305.48,579.94l2,-2M314.61,564.83h2.8M316.01,563.43v2.8M315.01,563.83l2,2M315.01,565.83l2,-2M329.70,553.17h2.8M331.10,551.77v2.8M330.10,552.17l2,2M330.10,554.17l2,-2M308.03,573.20h2.8M309.43,571.80v2.8M308.43,572.20l2,2M308.43,574.20l2,-2M308.31,570.60h2.8M309.71,569.20v2.8M308.71,569.60l2,2M308.71,571.60l2,-2M316.55,564.19h2.8M317.95,562.79v2.8M316.95,563.19l2,2M316.95,565.19l2,-2M308.01,573.26h2.8M309.41,571.86v2.8M308.41,572.26l2,2M308.41,574.26l2,-2M319.73,560.15h2.8M321.13,558.75v2.8M320.13,559.15l2,2M320.13,561.15l2,-2M335.91,544.05h2.8M337.31,542.65v2.8M336.31,543.05l2,2M336.31,545.05l2,-2M342.53,541.19h2.8M343.93,539.79v2.8M342.93,540.19l2,2M342.93,542.19l2,-2M344.63,538.82h2.8M346.03,537.42v2.8M345.03,537.82l2,2M345.03,539.82l2,-2M345.36,539.59h2.8M346.76,538.19v2.8M345.76,538.59l2,2M345.76,540.59l2,-2M344.65,539.76h2.8M346.05,538.36v2.8M345.05,538.76l2,2M345.05,540.76l2,-2M315.10,565.27h2.8M316.50,563.87v2.8M315.50,564.27l2,2M315.50,566.27l2,-2M305.89,571.63h2.8M307.29,570.23v2.8M306.29,570.63l2,2M306.29,572.63l2,-2M309.89,568.71h2.8M311.29,567.31v2.8M310.29,567.71l2,2M310.29,569.71l2,-2M320.02,561.60h2.8M321.42,560.20v2.8M320.42,560.60l2,2M320.42,562.60l2,-2M347.35,536.32h2.8M348.75,534.92v2.8M347.75,535.32l2,2M347.75,537.32l2,-2M341.06,544.15h2.8M342.46,542.75v2.8M341.46,543.15l2,2M341.46,545.15l2,-2M346.46,540.71h2.8M347.86,539.31v2.8M346.86,539.71l2,2M346.86,541.71l2,-2M308.28,571.63h2.8M309.68,570.23v2.8M308.68,570.63l2,2M308.68,572.63l2,-2M304.57,574.51h2.8M305.97,573.11v2.8M304.97,573.51l2,2M304.97,575.51l2,-2M340.63,543.00h2.8M342.03,541.60v2.8M341.03,542.00l2,2M341.03,544.00l2,-2M303.75,578.06h2.8M305.15,576.66v2.8M304.15,577.06l2,2M304.15,579.06l2,-2M326.19,558.87h2.8M327.59,557.47v2.8M326.59,557.87l2,2M326.59,559.87l2,-2M310.71,569.28h2.8M312.11,567.88v2.8M311.11,568.28l2,2M311.11,570.28l2,-2M309.93,570.52h2.8M311.33,569.12v2.8M310.33,569.52l2,2M310.33,571.52l2,-2M309.43,572.83h2.8M310.83,571.43v2.8M309.83,571.83l2,2M309.83,573.83l2,-2M310.99,571.19h2.8M312.39,569.79v2.8M311.39,570.19l2,2M311.39,572.19l2,-2M301.32,577.07h2.8M302.72,575.67v2.8M301.72,576.07l2,2M301.72,578.07l2,-2M343.38,541.09h2.8M344.78,539.69v2.8M343.78,540.09l2,2M343.78,542.09l2,-2M346.85,537.98h2.8M348.25,536.58v2.8M347.25,536.98l2,2M347.25,538.98l2,-2M304.41,574.41h2.8M305.81,573.01v2.8M304.81,573.41l2,2M304.81,575.41l2,-2M302.33,574.50h2.8M303.73,573.10v2.8M302.73,573.50l2,2M302.73,575.50l2,-2M333.55,550.79h2.8M334.95,549.39v2.8M333.95,549.79l2,2M333.95,551.79l2,-2M305.77,576.19h2.8M307.17,574.79v2.8M306.17,575.19l2,2M306.17,577.19l2,-2M312.62,573.00h2.8M314.02,571.60v2.8M313.02,572.00l2,2M313.02,574.00l2,-2M326.34,555.66h2.8M327.74,554.26v2.8M326.74,554.66l2,2M326.74,556.66l2,-2M314.87,566.35h2.8M316.27,564.95v2.8M315.27,565.35l2,2M315.27,567.35l2,-2M304.22,574.91h2.8M305.62,573.51v2.8M304.62,573.91l2,2M304.62,575.91l2,-2M309.81,572.40h2.8M311.21,571.00v2.8M310.21,571.40l2,2M310.21,573.40l2,-2M300.95,576.05h2.8M302.35,574.65v2.8M301.35,575.05l2,2M301.35,577.05l2,-2M346.23,538.18h2.8M347.63,536.78v2.8M346.63,537.18l2,2M346.63,539.18l2,-2M332.17,550.21h2.8M333.57,548.81v2.8M332.57,549.21l2,2M332.57,551.21l2,-2M324.80,555.04h2.8M326.20,553.64v2.8M325.20,554.04l2,2M325.20,556.04l2,-2M326.44,556.60h2.8M327.84,555.20v2.8M326.84,555.60l2,2M326.84,557.60l2,-2M307.89,571.10h2.8M309.29,569.70v2.8M308.29,570.10l2,2M308.29,572.10l2,-2M338.50,545.61h2.8M339.90,544.21v2.8M338.90,544.61l2,2M338.90,546.61l2,-2M308.14,572.49h2.8M309.54,571.09v2.8M308.54,571.49l2,2M308.54,573.49l2,-2M300.83,576.19h2.8M302.23,574.79v2.8M301.23,575.19l2,2M301.23,577.19l2,-2M344.08,541.20h2.8M345.48,539.80v2.8M344.48,540.20l2,2M344.48,542.20l2,-2M306.78,571.00h2.8M308.18,569.60v2.8M307.18,570.00l2,2M307.18,572.00l2,-2M314.41,570.41h2.8M315.81,569.01v2.8M314.81,569.41l2,2M314.81,571.41l2,-2M327.18,555.35h2.8M328.58,553.95v2.8M327.58,554.35l2,2M327.58,556.35l2,-2M305.70,575.50h2.8M307.10,574.10v2.8M306.10,574.50l2,2M306.10,576.50l2,-2M326.72,555.90h2.8M328.12,554.50v2.8M327.12,554.90l2,2M327.12,556.90l2,-2M313.10,568.31h2.8M314.50,566.91v2.8M313.50,567.31l2,2M313.50,569.31l2,-2M310.95,570.57h2.8M312.35,569.17v2.8M311.35,569.57l2,2M311.35,571.57l2,-2M306.03,572.72h2.8M307.43,571.32v2.8M306.43,571.72l2,2M306.43,573.72l2,-2M301.25,575.64h2.8M302.65,574.24v2.8M301.65,574.64l2,2M301.65,576.64l2,-2M306.54,571.29h2.8M307.94,569.89v2.8M306.94,570.29l2,2M306.94,572.29l2,-2M304.06,575.95h2.8M305.46,574.55v2.8M304.46,574.95l2,2M304.46,576.95l2,-2M314.86,565.53h2.8M316.26,564.13v2.8M315.26,564.53l2,2M315.26,566.53l2,-2M314.85,565.76h2.8M316.25,564.36v2.8M315.25,564.76l2,2M315.25,566.76l2,-2M303.18,574.50h2.8M304.58,573.10v2.8M303.58,573.50l2,2M303.58,575.50l2,-2M346.62,538.07h2.8M348.02,536.67v2.8M347.02,537.07l2,2M347.02,539.07l2,-2M331.32,552.98h2.8M332.72,551.58v2.8M331.72,551.98l2,2M331.72,553.98l2,-2M302.91,575.50h2.8M304.31,574.10v2.8M303.31,574.50l2,2M303.31,576.50l2,-2M329.93,553.76h2.8M331.33,552.36v2.8M330.33,552.76l2,2M330.33,554.76l2,-2M341.89,541.45h2.8M343.29,540.05v2.8M342.29,540.45l2,2M342.29,542.45l2,-2M306.21,574.65h2.8M307.61,573.25v2.8M306.61,573.65l2,2M306.61,575.65l2,-2M303.76,576.23h2.8M305.16,574.83v2.8M304.16,575.23l2,2M304.16,577.23l2,-2M323.34,560.39h2.8M324.74,558.99v2.8M323.74,559.39l2,2M323.74,561.39l2,-2M310.25,569.60h2.8M311.65,568.20v2.8M310.65,568.60l2,2M310.65,570.60l2,-2M318.30,562.97h2.8M319.70,561.57v2.8M318.70,561.97l2,2M318.70,563.97l2,-2M302.77,573.16h2.8M304.17,571.76v2.8M303.17,572.16l2,2M303.17,574.16l2,-2M313.46,566.79h2.8M314.86,565.39v2.8M313.86,565.79l2,2M313.86,567.79l2,-2M317.72,563.23h2.8M319.12,561.83v2.8M318.12,562.23l2,2M318.12,564.23l2,-2M301.13,577.43h2.8M302.53,576.03v2.8M301.53,576.43l2,2M301.53,578.43l2,-2M313.17,566.20h2.8M314.57,564.80v2.8M313.57,565.20l2,2M313.57,567.20l2,-2M302.64,575.84h2.8M304.04,574.44v2.8M303.04,574.84l2,2M303.04,576.84l2,-2M302.14,576.39h2.8M303.54,574.99v2.8M302.54,575.39l2,2M302.54,577.39l2,-2M320.97,560.00h2.8M322.37,558.60v2.8M321.37,559.00l2,2M321.37,561.00l2,-2M312.56,567.24h2.8M313.96,565.84v2.8M312.96,566.24l2,2M312.96,568.24l2,-2M303.38,575.59h2.8M304.78,574.19v2.8M303.78,574.59l2,2M303.78,576.59l2,-2M319.56,562.29h2.8M320.96,560.89v2.8M319.96,561.29l2,2M319.96,563.29l2,-2M305.48,574.17h2.8M306.88,572.77v2.8M305.88,573.17l2,2M305.88,575.17l2,-2M307.81,568.49h2.8M309.21,567.09v2.8M308.21,567.49l2,2M308.21,569.49l2,-2M313.80,565.04h2.8M315.20,563.64v2.8M314.20,564.04l2,2M314.20,566.04l2,-2M308.68,568.19h2.8M310.08,566.79v2.8M309.08,567.19l2,2M309.08,569.19l2,-2M311.57,568.30h2.8M312.97,566.90v2.8M311.97,567.30l2,2M311.97,569.30l2,-2M320.38,562.34h2.8M321.78,560.94v2.8M320.78,561.34l2,2M320.78,563.34l2,-2M325.08,557.13h2.8M326.48,555.73v2.8M325.48,556.13l2,2M325.48,558.13l2,-2M324.70,558.65h2.8M326.10,557.25v2.8M325.10,557.65l2,2M325.10,559.65l2,-2M301.22,576.74h2.8M302.62,575.34v2.8M301.62,575.74l2,2M301.62,577.74l2,-2M308.20,570.57h2.8M309.60,569.17v2.8M308.60,569.57l2,2M308.60,571.57l2,-2M301.00,577.10h2.8M302.40,575.70v2.8M301.40,576.10l2,2M301.40,578.10l2,-2M307.43,574.58h2.8M308.83,573.18v2.8M307.83,573.58l2,2M307.83,575.58l2,-2M323.56,558.18h2.8M324.96,556.78v2.8M323.96,557.18l2,2M323.96,559.18l2,-2M306.10,575.22h2.8M307.50,573.82v2.8M306.50,574.22l2,2M306.50,576.22l2,-2M310.97,570.39h2.8M312.37,568.99v2.8M311.37,569.39l2,2M311.37,571.39l2,-2M347.67,536.94h2.8M349.07,535.54v2.8M348.07,535.94l2,2M348.07,537.94l2,-2M337.84,544.74h2.8M339.24,543.34v2.8M338.24,543.74l2,2M338.24,545.74l2,-2M321.27,560.51h2.8M322.67,559.11v2.8M321.67,559.51l2,2M321.67,561.51l2,-2M319.30,562.33h2.8M320.70,560.93v2.8M319.70,561.33l2,2M319.70,563.33l2,-2M307.72,571.60h2.8M309.12,570.20v2.8M308.12,570.60l2,2M308.12,572.60l2,-2M307.95,572.32h2.8M309.35,570.92v2.8M308.35,571.32l2,2M308.35,573.32l2,-2M312.57,569.36h2.8M313.97,567.96v2.8M312.97,568.36l2,2M312.97,570.36l2,-2M311.24,567.31h2.8M312.64,565.91v2.8M311.64,566.31l2,2M311.64,568.31l2,-2M330.11,550.54h2.8M331.51,549.14v2.8M330.51,549.54l2,2M330.51,551.54l2,-2M316.60,563.43h2.8M318.00,562.03v2.8M317.00,562.43l2,2M317.00,564.43l2,-2M335.19,547.44h2.8M336.59,546.04v2.8M335.59,546.44l2,2M335.59,548.44l2,-2M342.15,543.64h2.8M343.55,542.24v2.8M342.55,542.64l2,2M342.55,544.64l2,-2M328.16,553.95h2.8M329.56,552.55v2.8M328.56,552.95l2,2M328.56,554.95l2,-2M327.08,555.66h2.8M328.48,554.26v2.8M327.48,554.66l2,2M327.48,556.66l2,-2M308.68,570.60h2.8M310.08,569.20v2.8M309.08,569.60l2,2M309.08,571.60l2,-2M302.65,579.13h2.8M304.05,577.73v2.8M303.05,578.13l2,2M303.05,580.13l2,-2M306.76,572.89h2.8M308.16,571.49v2.8M307.16,571.89l2,2M307.16,573.89l2,-2M313.39,567.56h2.8M314.79,566.16v2.8M313.79,566.56l2,2M313.79,568.56l2,-2M307.79,572.31h2.8M309.19,570.91v2.8M308.19,571.31l2,2M308.19,573.31l2,-2M312.33,567.63h2.8M313.73,566.23v2.8M312.73,566.63l2,2M312.73,568.63l2,-2M338.23,546.63h2.8M339.63,545.23v2.8M338.63,545.63l2,2M338.63,547.63l2,-2M320.52,560.25h2.8M321.92,558.85v2.8M320.92,559.25l2,2M320.92,561.25l2,-2M340.80,544.59h2.8M342.20,543.19v2.8M341.20,543.59l2,2M341.20,545.59l2,-2M311.75,568.70h2.8M313.15,567.30v2.8M312.15,567.70l2,2M312.15,569.70l2,-2M347.47,538.46h2.8M348.87,537.06v2.8M347.87,537.46l2,2M347.87,539.46l2,-2M320.46,560.09h2.8M321.86,558.69v2.8M320.86,559.09l2,2M320.86,561.09l2,-2M350.61,537.08h2.8M352.01,535.68v2.8M351.01,536.08l2,2M351.01,538.08l2,-2M300.86,577.63h2.8M302.26,576.23v2.8M301.26,576.63l2,2M301.26,578.63l2,-2M306.11,573.35h2.8M307.51,571.95v2.8M306.51,572.35l2,2M306.51,574.35l2,-2M324.10,557.40h2.8M325.50,556.00v2.8M324.50,556.40l2,2M324.50,558.40l2,-2M342.24,542.36h2.8M343.64,540.96v2.8M342.64,541.36l2,2M342.64,543.36l2,-2M338.94,546.34h2.8M340.34,544.94v2.8M339.34,545.34l2,2M339.34,547.34l2,-2M327.36,555.22h2.8M328.76,553.82v2.8M327.76,554.22l2,2M327.76,556.22l2,-2M302.31,577.99h2.8M303.71,576.59v2.8M302.71,576.99l2,2M302.71,578.99l2,-2M306.12,573.36h2.8M307.52,571.96v2.8M306.52,572.36l2,2M306.52,574.36l2,-2M306.79,572.03h2.8M308.19,570.63v2.8M307.19,571.03l2,2M307.19,573.03l2,-2M307.08,571.73h2.8M308.48,570.33v2.8M307.48,570.73l2,2M307.48,572.73l2,-2M301.57,578.52h2.8M302.97,577.12v2.8M301.97,577.52l2,2M301.97,579.52l2,-2M299.64,572.35h2.8M301.04,570.95v2.8M300.04,571.35l2,2M300.04,573.35l2,-2M312.27,566.12h2.8M313.67,564.72v2.8M312.67,565.12l2,2M312.67,567.12l2,-2M320.74,562.37h2.8M322.14,560.97v2.8M321.14,561.37l2,2M321.14,563.37l2,-2M331.74,551.51h2.8M333.14,550.11v2.8M332.14,550.51l2,2M332.14,552.51l2,-2M349.01,534.60h2.8M350.41,533.20v2.8M349.41,533.60l2,2M349.41,535.60l2,-2M309.28,571.44h2.8M310.68,570.04v2.8M309.68,570.44l2,2M309.68,572.44l2,-2M300.59,576.42h2.8M301.99,575.02v2.8M300.99,575.42l2,2M300.99,577.42l2,-2M326.25,556.94h2.8M327.65,555.54v2.8M326.65,555.94l2,2M326.65,557.94l2,-2M299.50,576.90h2.8M300.90,575.50v2.8M299.90,575.90l2,2M299.90,577.90l2,-2M336.37,545.96h2.8M337.77,544.56v2.8M336.77,544.96l2,2M336.77,546.96l2,-2M338.77,545.88h2.8M340.17,544.48v2.8M339.17,544.88l2,2M339.17,546.88l2,-2M319.89,561.14h2.8M321.29,559.74v2.8M320.29,560.14l2,2M320.29,562.14l2,-2M300.80,577.15h2.8M302.20,575.75v2.8M301.20,576.15l2,2M301.20,578.15l2,-2M317.53,562.02h2.8M318.93,560.62v2.8M317.93,561.02l2,2M317.93,563.02l2,-2M331.93,550.81h2.8M333.33,549.41v2.8M332.33,549.81l2,2M332.33,551.81l2,-2M316.79,565.27h2.8M318.19,563.87v2.8M317.19,564.27l2,2M317.19,566.27l2,-2M310.27,569.47h2.8M311.67,568.07v2.8M310.67,568.47l2,2M310.67,570.47l2,-2M309.33,571.27h2.8M310.73,569.87v2.8M309.73,570.27l2,2M309.73,572.27l2,-2M322.37,560.87h2.8M323.77,559.47v2.8M322.77,559.87l2,2M322.77,561.87l2,-2M314.61,563.13h2.8M316.01,561.73v2.8M315.01,562.13l2,2M315.01,564.13l2,-2M313.20,566.30h2.8M314.60,564.90v2.8M313.60,565.30l2,2M313.60,567.30l2,-2M313.13,563.08h2.8M314.53,561.68v2.8M313.53,562.08l2,2M313.53,564.08l2,-2M305.94,573.08h2.8M307.34,571.68v2.8M306.34,572.08l2,2M306.34,574.08l2,-2M311.10,570.72h2.8M312.50,569.32v2.8M311.50,569.72l2,2M311.50,571.72l2,-2M306.06,574.58h2.8M307.46,573.18v2.8M306.46,573.58l2,2M306.46,575.58l2,-2M318.61,562.04h2.8M320.01,560.64v2.8M319.01,561.04l2,2M319.01,563.04l2,-2M344.70,541.00h2.8M346.10,539.60v2.8M345.10,540.00l2,2M345.10,542.00l2,-2M329.73,555.15h2.8M331.13,553.75v2.8M330.13,554.15l2,2M330.13,556.15l2,-2M322.20,558.74h2.8M323.60,557.34v2.8M322.60,557.74l2,2M322.60,559.74l2,-2M310.76,567.98h2.8M312.16,566.58v2.8M311.16,566.98l2,2M311.16,568.98l2,-2M301.03,576.70h2.8M302.43,575.30v2.8M301.43,575.70l2,2M301.43,577.70l2,-2M330.09,553.37h2.8M331.49,551.97v2.8M330.49,552.37l2,2M330.49,554.37l2,-2M349.49,535.83h2.8M350.89,534.43v2.8M349.89,534.83l2,2M349.89,536.83l2,-2M349.00,534.90h2.8M350.40,533.50v2.8M349.40,533.90l2,2M349.40,535.90l2,-2M314.41,564.86h2.8M315.81,563.46v2.8M314.81,563.86l2,2M314.81,565.86l2,-2M333.39,551.85h2.8M334.79,550.45v2.8M333.79,550.85l2,2M333.79,552.85l2,-2M325.91,556.83h2.8M327.31,555.43v2.8M326.31,555.83l2,2M326.31,557.83l2,-2M336.25,547.97h2.8M337.65,546.57v2.8M336.65,546.97l2,2M336.65,548.97l2,-2M327.05,555.82h2.8M328.45,554.42v2.8M327.45,554.82l2,2M327.45,556.82l2,-2M311.15,571.50h2.8M312.55,570.10v2.8M311.55,570.50l2,2M311.55,572.50l2,-2M325.25,557.54h2.8M326.65,556.14v2.8M325.65,556.54l2,2M325.65,558.54l2,-2M337.26,544.02h2.8M338.66,542.62v2.8M337.66,543.02l2,2M337.66,545.02l2,-2M307.62,571.86h2.8M309.02,570.46v2.8M308.02,570.86l2,2M308.02,572.86l2,-2M306.14,575.51h2.8M307.54,574.11v2.8M306.54,574.51l2,2M306.54,576.51l2,-2M301.78,574.54h2.8M303.18,573.14v2.8M302.18,573.54l2,2M302.18,575.54l2,-2M347.18,541.62h2.8M348.58,540.22v2.8M347.58,540.62l2,2M347.58,542.62l2,-2M310.43,571.70h2.8M311.83,570.30v2.8M310.83,570.70l2,2M310.83,572.70l2,-2M310.10,569.70h2.8M311.50,568.30v2.8M310.50,568.70l2,2M310.50,570.70l2,-2M315.38,564.65h2.8M316.78,563.25v2.8M315.78,563.65l2,2M315.78,565.65l2,-2M335.14,548.85h2.8M336.54,547.45v2.8M335.54,547.85l2,2M335.54,549.85l2,-2M323.75,558.76h2.8M325.15,557.36v2.8M324.15,557.76l2,2M324.15,559.76l2,-2M330.54,552.07h2.8M331.94,550.67v2.8M330.94,551.07l2,2M330.94,553.07l2,-2M334.38,548.78h2.8M335.78,547.38v2.8M334.78,547.78l2,2M334.78,549.78l2,-2M321.37,561.62h2.8M322.77,560.22v2.8M321.77,560.62l2,2M321.77,562.62l2,-2M340.77,542.67h2.8M342.17,541.27v2.8M341.17,541.67l2,2M341.17,543.67l2,-2M347.08,537.47h2.8M348.48,536.07v2.8M347.48,536.47l2,2M347.48,538.47l2,-2M309.05,570.54h2.8M310.45,569.14v2.8M309.45,569.54l2,2M309.45,571.54l2,-2M312.28,566.90h2.8M313.68,565.50v2.8M312.68,565.90l2,2M312.68,567.90l2,-2M319.06,561.88h2.8M320.46,560.48v2.8M319.46,560.88l2,2M319.46,562.88l2,-2M303.01,575.35h2.8M304.41,573.95v2.8M303.41,574.35l2,2M303.41,576.35l2,-2M348.07,537.24h2.8M349.47,535.84v2.8M348.47,536.24l2,2M348.47,538.24l2,-2M312.16,567.76h2.8M313.56,566.36v2.8M312.56,566.76l2,2M312.56,568.76l2,-2M312.35,567.22h2.8M313.75,565.82v2.8M312.75,566.22l2,2M312.75,568.22l2,-2M341.82,541.29h2.8M343.22,539.89v2.8M342.22,540.29l2,2M342.22,542.29l2,-2M314.64,567.83h2.8M316.04,566.43v2.8M315.04,566.83l2,2M315.04,568.83l2,-2M335.78,547.18h2.8M337.18,545.78v2.8M336.18,546.18l2,2M336.18,548.18l2,-2M348.51,538.69h2.8M349.91,537.29v2.8M348.91,537.69l2,2M348.91,539.69l2,-2M317.76,562.45h2.8M319.16,561.05v2.8M318.16,561.45l2,2M318.16,563.45l2,-2M331.83,554.38h2.8M333.23,552.98v2.8M332.23,553.38l2,2M332.23,555.38l2,-2M319.89,562.06h2.8M321.29,560.66v2.8M320.29,561.06l2,2M320.29,563.06l2,-2M350.75,536.36h2.8M352.15,534.96v2.8M351.15,535.36l2,2M351.15,537.36l2,-2M334.17,550.78h2.8M335.57,549.38v2.8M334.57,549.78l2,2M334.57,551.78l2,-2M306.55,574.49h2.8M307.95,573.09v2.8M306.95,573.49l2,2M306.95,575.49l2,-2M305.08,575.50h2.8M306.48,574.10v2.8M305.48,574.50l2,2M305.48,576.50l2,-2M337.76,546.64h2.8M339.16,545.24v2.8M338.16,545.64l2,2M338.16,547.64l2,-2M339.64,545.77h2.8M341.04,544.37v2.8M340.04,544.77l2,2M340.04,546.77l2,-2M314.87,569.66h2.8M316.27,568.26v2.8M315.27,568.66l2,2M315.27,570.66l2,-2M304.16,572.65h2.8M305.56,571.25v2.8M304.56,571.65l2,2M304.56,573.65l2,-2M312.04,567.88h2.8M313.44,566.48v2.8M312.44,566.88l2,2M312.44,568.88l2,-2M309.09,571.53h2.8M310.49,570.13v2.8M309.49,570.53l2,2M309.49,572.53l2,-2M314.66,566.04h2.8M316.06,564.64v2.8M315.06,565.04l2,2M315.06,567.04l2,-2M303.27,576.41h2.8M304.67,575.01v2.8M303.67,575.41l2,2M303.67,577.41l2,-2M323.14,559.02h2.8M324.54,557.62v2.8M323.54,558.02l2,2M323.54,560.02l2,-2M308.48,572.75h2.8M309.88,571.35v2.8M308.88,571.75l2,2M308.88,573.75l2,-2M331.14,553.41h2.8M332.54,552.01v2.8M331.54,552.41l2,2M331.54,554.41l2,-2M301.71,578.86h2.8M303.11,577.46v2.8M302.11,577.86l2,2M302.11,579.86l2,-2M336.47,548.40h2.8M337.87,547.00v2.8M336.87,547.40l2,2M336.87,549.40l2,-2M301.72,576.23h2.8M303.12,574.83v2.8M302.12,575.23l2,2M302.12,577.23l2,-2M343.19,542.80h2.8M344.59,541.40v2.8M343.59,541.80l2,2M343.59,543.80l2,-2M306.16,577.14h2.8M307.56,575.74v2.8M306.56,576.14l2,2M306.56,578.14l2,-2M323.36,556.75h2.8M324.76,555.35v2.8M323.76,555.75l2,2M323.76,557.75l2,-2M327.24,552.68h2.8M328.64,551.28v2.8M327.64,551.68l2,2M327.64,553.68l2,-2M314.82,565.68h2.8M316.22,564.28v2.8M315.22,564.68l2,2M315.22,566.68l2,-2M321.07,559.49h2.8M322.47,558.09v2.8M321.47,558.49l2,2M321.47,560.49l2,-2M323.90,560.43h2.8M325.30,559.03v2.8M324.30,559.43l2,2M324.30,561.43l2,-2M307.07,570.62h2.8M308.47,569.22v2.8M307.47,569.62l2,2M307.47,571.62l2,-2M301.20,576.62h2.8M302.60,575.22v2.8M301.60,575.62l2,2M301.60,577.62l2,-2M311.28,568.69h2.8M312.68,567.29v2.8M311.68,567.69l2,2M311.68,569.69l2,-2M306.37,573.43h2.8M307.77,572.03v2.8M306.77,572.43l2,2M306.77,574.43l2,-2M347.96,536.64h2.8M349.36,535.24v2.8M348.36,535.64l2,2M348.36,537.64l2,-2M314.31,564.93h2.8M315.71,563.53v2.8M314.71,563.93l2,2M314.71,565.93l2,-2M323.97,556.05h2.8M325.37,554.65v2.8M324.37,555.05l2,2M324.37,557.05l2,-2M301.74,577.38h2.8M303.14,575.98v2.8M302.14,576.38l2,2M302.14,578.38l2,-2M321.54,560.73h2.8M322.94,559.33v2.8M321.94,559.73l2,2M321.94,561.73l2,-2M313.27,572.55h2.8M314.67,571.15v2.8M313.67,571.55l2,2M313.67,573.55l2,-2M316.58,563.96h2.8M317.98,562.56v2.8M316.98,562.96l2,2M316.98,564.96l2,-2M333.35,552.05h2.8M334.75,550.65v2.8M333.75,551.05l2,2M333.75,553.05l2,-2M307.23,567.99h2.8M308.63,566.59v2.8M307.63,566.99l2,2M307.63,568.99l2,-2M301.92,578.68h2.8M303.32,577.28v2.8M302.32,577.68l2,2M302.32,579.68l2,-2M300.02,578.30h2.8M301.42,576.90v2.8M300.42,577.30l2,2M300.42,579.30l2,-2M349.47,536.50h2.8M350.87,535.10v2.8M349.87,535.50l2,2M349.87,537.50l2,-2M321.86,559.65h2.8M323.26,558.25v2.8M322.26,558.65l2,2M322.26,560.65l2,-2M322.52,560.24h2.8M323.92,558.84v2.8M322.92,559.24l2,2M322.92,561.24l2,-2M304.88,576.49h2.8M306.28,575.09v2.8M305.28,575.49l2,2M305.28,577.49l2,-2M327.85,555.27h2.8M329.25,553.87v2.8M328.25,554.27l2,2M328.25,556.27l2,-2M346.35,536.12h2.8M347.75,534.72v2.8M346.75,535.12l2,2M346.75,537.12l2,-2M304.44,571.07h2.8M305.84,569.67v2.8M304.84,570.07l2,2M304.84,572.07l2,-2M313.12,566.92h2.8M314.52,565.52v2.8M313.52,565.92l2,2M313.52,567.92l2,-2M317.76,561.64h2.8M319.16,560.24v2.8M318.16,560.64l2,2M318.16,562.64l2,-2M334.17,548.02h2.8M335.57,546.62v2.8M334.57,547.02l2,2M334.57,549.02l2,-2M312.35,569.68h2.8M313.75,568.28v2.8M312.75,568.68l2,2M312.75,570.68l2,-2M306.06,574.63h2.8M307.46,573.23v2.8M306.46,573.63l2,2M306.46,575.63l2,-2M325.79,555.54h2.8M327.19,554.14v2.8M326.19,554.54l2,2M326.19,556.54l2,-2M317.27,562.51h2.8M318.67,561.11v2.8M317.67,561.51l2,2M317.67,563.51l2,-2M316.17,564.32h2.8M317.57,562.92v2.8M316.57,563.32l2,2M316.57,565.32l2,-2M310.40,568.29h2.8M311.80,566.89v2.8M310.80,567.29l2,2M310.80,569.29l2,-2M311.82,566.55h2.8M313.22,565.15v2.8M312.22,565.55l2,2M312.22,567.55l2,-2M329.22,550.29h2.8M330.62,548.89v2.8M329.62,549.29l2,2M329.62,551.29l2,-2M322.50,558.49h2.8M323.90,557.09v2.8M322.90,557.49l2,2M322.90,559.49l2,-2M305.37,573.74h2.8M306.77,572.34v2.8M305.77,572.74l2,2M305.77,574.74l2,-2M309.41,568.18h2.8M310.81,566.78v2.8M309.81,567.18l2,2M309.81,569.18l2,-2M308.48,573.18h2.8M309.88,571.78v2.8M308.88,572.18l2,2M308.88,574.18l2,-2M304.87,574.50h2.8M306.27,573.10v2.8M305.27,573.50l2,2M305.27,575.50l2,-2M307.73,571.18h2.8M309.13,569.78v2.8M308.13,570.18l2,2M308.13,572.18l2,-2M329.92,554.78h2.8M331.32,553.38v2.8M330.32,553.78l2,2M330.32,555.78l2,-2M319.06,563.97h2.8M320.46,562.57v2.8M319.46,562.97l2,2M319.46,564.97l2,-2M312.76,567.29h2.8M314.16,565.89v2.8M313.16,566.29l2,2M313.16,568.29l2,-2M299.63,577.49h2.8M301.03,576.09v2.8M300.03,576.49l2,2M300.03,578.49l2,-2M304.95,576.19h2.8M306.35,574.79v2.8M305.35,575.19l2,2M305.35,577.19l2,-2M304.57,574.65h2.8M305.97,573.25v2.8M304.97,573.65l2,2M304.97,575.65l2,-2M308.39,572.56h2.8M309.79,571.16v2.8M308.79,571.56l2,2M308.79,573.56l2,-2M326.87,555.11h2.8M328.27,553.71v2.8M327.27,554.11l2,2M327.27,556.11l2,-2M345.94,539.12h2.8M347.34,537.72v2.8M346.34,538.12l2,2M346.34,540.12l2,-2M313.58,565.08h2.8M314.98,563.68v2.8M313.98,564.08l2,2M313.98,566.08l2,-2M306.23,571.43h2.8M307.63,570.03v2.8M306.63,570.43l2,2M306.63,572.43l2,-2M324.79,556.26h2.8M326.19,554.86v2.8M325.19,555.26l2,2M325.19,557.26l2,-2M316.75,568.29h2.8M318.15,566.89v2.8M317.15,567.29l2,2M317.15,569.29l2,-2M303.83,575.77h2.8M305.23,574.37v2.8M304.23,574.77l2,2M304.23,576.77l2,-2M306.58,574.03h2.8M307.98,572.63v2.8M306.98,573.03l2,2M306.98,575.03l2,-2M302.97,575.83h2.8M304.37,574.43v2.8M303.37,574.83l2,2M303.37,576.83l2,-2M310.19,572.87h2.8M311.59,571.47v2.8M310.59,571.87l2,2M310.59,573.87l2,-2M339.12,544.55h2.8M340.52,543.15v2.8M339.52,543.55l2,2M339.52,545.55l2,-2M308.75,570.03h2.8M310.15,568.63v2.8M309.15,569.03l2,2M309.15,571.03l2,-2M309.51,569.90h2.8M310.91,568.50v2.8M309.91,568.90l2,2M309.91,570.90l2,-2M303.32,574.34h2.8M304.72,572.94v2.8M303.72,573.34l2,2M303.72,575.34l2,-2M328.71,554.82h2.8M330.11,553.42v2.8M329.11,553.82l2,2M329.11,555.82l2,-2M336.41,550.11h2.8M337.81,548.71v2.8M336.81,549.11l2,2M336.81,551.11l2,-2M346.73,539.78h2.8M348.13,538.38v2.8M347.13,538.78l2,2M347.13,540.78l2,-2M306.03,570.76h2.8M307.43,569.36v2.8M306.43,569.76l2,2M306.43,571.76l2,-2M330.96,552.48h2.8M332.36,551.08v2.8M331.36,551.48l2,2M331.36,553.48l2,-2M348.42,537.63h2.8M349.82,536.23v2.8M348.82,536.63l2,2M348.82,538.63l2,-2M348.16,537.58h2.8M349.56,536.18v2.8M348.56,536.58l2,2M348.56,538.58l2,-2M333.74,548.08h2.8M335.14,546.68v2.8M334.14,547.08l2,2M334.14,549.08l2,-2M340.74,544.09h2.8M342.14,542.69v2.8M341.14,543.09l2,2M341.14,545.09l2,-2M348.94,536.97h2.8M350.34,535.57v2.8M349.34,535.97l2,2M349.34,537.97l2,-2M318.50,564.84h2.8M319.90,563.44v2.8M318.90,563.84l2,2M318.90,565.84l2,-2M308.06,569.95h2.8M309.46,568.55v2.8M308.46,568.95l2,2M308.46,570.95l2,-2M323.60,559.16h2.8M325.00,557.76v2.8M324.00,558.16l2,2M324.00,560.16l2,-2M302.69,576.62h2.8M304.09,575.22v2.8M303.09,575.62l2,2M303.09,577.62l2,-2M317.26,564.35h2.8M318.66,562.95v2.8M317.66,563.35l2,2M317.66,565.35l2,-2M308.58,571.71h2.8M309.98,570.31v2.8M308.98,570.71l2,2M308.98,572.71l2,-2M303.60,575.25h2.8M305.00,573.85v2.8M304.00,574.25l2,2M304.00,576.25l2,-2M333.65,549.80h2.8M335.05,548.40v2.8M334.05,548.80l2,2M334.05,550.80l2,-2M311.91,568.67h2.8M313.31,567.27v2.8M312.31,567.67l2,2M312.31,569.67l2,-2M349.46,535.56h2.8M350.86,534.16v2.8M349.86,534.56l2,2M349.86,536.56l2,-2M349.53,535.70h2.8M350.93,534.30v2.8M349.93,534.70l2,2M349.93,536.70l2,-2M339.15,544.30h2.8M340.55,542.90v2.8M339.55,543.30l2,2M339.55,545.30l2,-2M313.39,565.31h2.8M314.79,563.91v2.8M313.79,564.31l2,2M313.79,566.31l2,-2M341.77,544.18h2.8M343.17,542.78v2.8M342.17,543.18l2,2M342.17,545.18l2,-2M303.55,576.12h2.8M304.95,574.72v2.8M303.95,575.12l2,2M303.95,577.12l2,-2M315.44,569.70h2.8M316.84,568.30v2.8M315.84,568.70l2,2M315.84,570.70l2,-2M347.63,539.23h2.8M349.03,537.83v2.8M348.03,538.23l2,2M348.03,540.23l2,-2M310.66,570.98h2.8M312.06,569.58v2.8M311.06,569.98l2,2M311.06,571.98l2,-2M336.96,548.05h2.8M338.36,546.65v2.8M337.36,547.05l2,2M337.36,549.05l2,-2M306.61,573.20h2.8M308.01,571.80v2.8M307.01,572.20l2,2M307.01,574.20l2,-2M302.80,575.98h2.8M304.20,574.58v2.8M303.20,574.98l2,2M303.20,576.98l2,-2M310.02,571.33h2.8M311.42,569.93v2.8M310.42,570.33l2,2M310.42,572.33l2,-2M328.20,554.23h2.8M329.60,552.83v2.8M328.60,553.23l2,2M328.60,555.23l2,-2M304.34,575.14h2.8M305.74,573.74v2.8M304.74,574.14l2,2M304.74,576.14l2,-2M338.62,546.58h2.8M340.02,545.18v2.8M339.02,545.58l2,2M339.02,547.58l2,-2M304.26,573.43h2.8M305.66,572.03v2.8M304.66,572.43l2,2M304.66,574.43l2,-2M348.10,535.85h2.8M349.50,534.45v2.8M348.50,534.85l2,2M348.50,536.85l2,-2M324.55,559.18h2.8M325.95,557.78v2.8M324.95,558.18l2,2M324.95,560.18l2,-2M301.07,577.60h2.8M302.47,576.20v2.8M301.47,576.60l2,2M301.47,578.60l2,-2M303.75,577.34h2.8M305.15,575.94v2.8M304.15,576.34l2,2M304.15,578.34l2,-2M301.26,578.73h2.8M302.66,577.33v2.8M301.66,577.73l2,2M301.66,579.73l2,-2M332.44,550.08h2.8M333.84,548.68v2.8M332.84,549.08l2,2M332.84,551.08l2,-2M305.51,575.49h2.8M306.91,574.09v2.8M305.91,574.49l2,2M305.91,576.49l2,-2M317.85,561.76h2.8M319.25,560.36v2.8M318.25,560.76l2,2M318.25,562.76l2,-2M318.26,563.93h2.8M319.66,562.53v2.8M318.66,562.93l2,2M318.66,564.93l2,-2M326.68,554.76h2.8M328.08,553.36v2.8M327.08,553.76l2,2M327.08,555.76l2,-2M312.60,569.79h2.8M314.00,568.39v2.8M313.00,568.79l2,2M313.00,570.79l2,-2M306.50,569.63h2.8M307.90,568.23v2.8M306.90,568.63l2,2M306.90,570.63l2,-2M302.36,576.23h2.8M303.76,574.83v2.8M302.76,575.23l2,2M302.76,577.23l2,-2M308.36,572.34h2.8M309.76,570.94v2.8M308.76,571.34l2,2M308.76,573.34l2,-2M310.12,568.80h2.8M311.52,567.40v2.8M310.52,567.80l2,2M310.52,569.80l2,-2M345.67,538.23h2.8M347.07,536.83v2.8M346.07,537.23l2,2M346.07,539.23l2,-2M307.87,571.95h2.8M309.27,570.55v2.8M308.27,570.95l2,2M308.27,572.95l2,-2M324.00,559.38h2.8M325.40,557.98v2.8M324.40,558.38l2,2M324.40,560.38l2,-2M332.61,551.55h2.8M334.01,550.15v2.8M333.01,550.55l2,2M333.01,552.55l2,-2M304.26,575.11h2.8M305.66,573.71v2.8M304.66,574.11l2,2M304.66,576.11l2,-2M340.64,544.22h2.8M342.04,542.82v2.8M341.04,543.22l2,2M341.04,545.22l2,-2M319.85,558.71h2.8M321.25,557.31v2.8M320.25,557.71l2,2M320.25,559.71l2,-2M324.50,557.52h2.8M325.90,556.12v2.8M324.90,556.52l2,2M324.90,558.52l2,-2M317.57,564.02h2.8M318.97,562.62v2.8M317.97,563.02l2,2M317.97,565.02l2,-2M341.52,545.53h2.8M342.92,544.13v2.8M341.92,544.53l2,2M341.92,546.53l2,-2M339.22,543.99h2.8M340.62,542.59v2.8M339.62,542.99l2,2M339.62,544.99l2,-2M308.88,571.25h2.8M310.28,569.85v2.8M309.28,570.25l2,2M309.28,572.25l2,-2M315.25,567.96h2.8M316.65,566.56v2.8M315.65,566.96l2,2M315.65,568.96l2,-2M338.31,543.37h2.8M339.71,541.97v2.8M338.71,542.37l2,2M338.71,544.37l2,-2M333.32,551.80h2.8M334.72,550.40v2.8M333.72,550.80l2,2M333.72,552.80l2,-2M315.39,566.47h2.8M316.79,565.07v2.8M315.79,565.47l2,2M315.79,567.47l2,-2M309.90,569.71h2.8M311.30,568.31v2.8M310.30,568.71l2,2M310.30,570.71l2,-2M306.24,573.17h2.8M307.64,571.77v2.8M306.64,572.17l2,2M306.64,574.17l2,-2M338.23,545.83h2.8M339.63,544.43v2.8M338.63,544.83l2,2M338.63,546.83l2,-2M346.60,537.49h2.8M348.00,536.09v2.8M347.00,536.49l2,2M347.00,538.49l2,-2M318.15,563.79h2.8M319.55,562.39v2.8M318.55,562.79l2,2M318.55,564.79l2,-2M310.54,568.09h2.8M311.94,566.69v2.8M310.94,567.09l2,2M310.94,569.09l2,-2M325.94,556.18h2.8M327.34,554.78v2.8M326.34,555.18l2,2M326.34,557.18l2,-2M308.35,569.09h2.8M309.75,567.69v2.8M308.75,568.09l2,2M308.75,570.09l2,-2M346.77,539.18h2.8M348.17,537.78v2.8M347.17,538.18l2,2M347.17,540.18l2,-2M331.96,553.09h2.8M333.36,551.69v2.8M332.36,552.09l2,2M332.36,554.09l2,-2M313.36,565.80h2.8M314.76,564.40v2.8M313.76,564.80l2,2M313.76,566.80l2,-2M312.02,566.10h2.8M313.42,564.70v2.8M312.42,565.10l2,2M312.42,567.10l2,-2M313.22,568.13h2.8M314.62,566.73v2.8M313.62,567.13l2,2M313.62,569.13l2,-2M305.40,574.67h2.8M306.80,573.27v2.8M305.80,573.67l2,2M305.80,575.67l2,-2M327.13,556.85h2.8M328.53,555.45v2.8M327.53,555.85l2,2M327.53,557.85l2,-2M320.85,561.17h2.8M322.25,559.77v2.8M321.25,560.17l2,2M321.25,562.17l2,-2M305.57,572.40h2.8M306.97,571.00v2.8M305.97,571.40l2,2M305.97,573.40l2,-2M326.45,553.69h2.8M327.85,552.29v2.8M326.85,552.69l2,2M326.85,554.69l2,-2M310.45,565.52h2.8M311.85,564.12v2.8M310.85,564.52l2,2M310.85,566.52l2,-2M309.49,570.47h2.8M310.89,569.07v2.8M309.89,569.47l2,2M309.89,571.47l2,-2M308.71,571.15h2.8M310.11,569.75v2.8M309.11,570.15l2,2M309.11,572.15l2,-2M315.74,564.96h2.8M317.14,563.56v2.8M316.14,563.96l2,2M316.14,565.96l2,-2M322.75,558.65h2.8M324.15,557.25v2.8M323.15,557.65l2,2M323.15,559.65l2,-2M347.96,537.69h2.8M349.36,536.29v2.8M348.36,536.69l2,2M348.36,538.69l2,-2M303.52,574.67h2.8M304.92,573.27v2.8M303.92,573.67l2,2M303.92,575.67l2,-2M304.89,571.37h2.8M306.29,569.97v2.8M305.29,570.37l2,2M305.29,572.37l2,-2M331.89,550.25h2.8M333.29,548.85v2.8M332.29,549.25l2,2M332.29,551.25l2,-2M311.17,569.60h2.8M312.57,568.20v2.8M311.57,568.60l2,2M311.57,570.60l2,-2M301.60,578.49h2.8M303.00,577.09v2.8M302.00,577.49l2,2M302.00,579.49l2,-2M306.32,575.33h2.8M307.72,573.93v2.8M306.72,574.33l2,2M306.72,576.33l2,-2M329.63,552.52h2.8M331.03,551.12v2.8M330.03,551.52l2,2M330.03,553.52l2,-2M305.66,575.05h2.8M307.06,573.65v2.8M306.06,574.05l2,2M306.06,576.05l2,-2M320.02,559.79h2.8M321.42,558.39v2.8M320.42,558.79l2,2M320.42,560.79l2,-2M311.51,567.96h2.8M312.91,566.56v2.8M311.91,566.96l2,2M311.91,568.96l2,-2M321.55,559.23h2.8M322.95,557.83v2.8M321.95,558.23l2,2M321.95,560.23l2,-2M320.83,560.52h2.8M322.23,559.12v2.8M321.23,559.52l2,2M321.23,561.52l2,-2M324.04,558.77h2.8M325.44,557.37v2.8M324.44,557.77l2,2M324.44,559.77l2,-2M345.98,541.14h2.8M347.38,539.74v2.8M346.38,540.14l2,2M346.38,542.14l2,-2M333.41,549.68h2.8M334.81,548.28v2.8M333.81,548.68l2,2M333.81,550.68l2,-2M346.77,537.16h2.8M348.17,535.76v2.8M347.17,536.16l2,2M347.17,538.16l2,-2M333.46,550.66h2.8M334.86,549.26v2.8M333.86,549.66l2,2M333.86,551.66l2,-2M349.03,535.84h2.8M350.43,534.44v2.8M349.43,534.84l2,2M349.43,536.84l2,-2M306.26,573.26h2.8M307.66,571.86v2.8M306.66,572.26l2,2M306.66,574.26l2,-2M310.22,567.35h2.8M311.62,565.95v2.8M310.62,566.35l2,2M310.62,568.35l2,-2M315.29,568.10h2.8M316.69,566.70v2.8M315.69,567.10l2,2M315.69,569.10l2,-2M341.65,541.86h2.8M343.05,540.46v2.8M342.05,540.86l2,2M342.05,542.86l2,-2M337.80,545.80h2.8M339.20,544.40v2.8M338.20,544.80l2,2M338.20,546.80l2,-2M309.52,568.08h2.8M310.92,566.68v2.8M309.92,567.08l2,2M309.92,569.08l2,-2M306.77,572.84h2.8M308.17,571.44v2.8M307.17,571.84l2,2M307.17,573.84l2,-2M347.92,537.57h2.8M349.32,536.17v2.8M348.32,536.57l2,2M348.32,538.57l2,-2M325.65,557.77h2.8M327.05,556.37v2.8M326.05,556.77l2,2M326.05,558.77l2,-2M333.56,549.76h2.8M334.96,548.36v2.8M333.96,548.76l2,2M333.96,550.76l2,-2M306.65,571.75h2.8M308.05,570.35v2.8M307.05,570.75l2,2M307.05,572.75l2,-2M348.07,534.41h2.8M349.47,533.01v2.8M348.47,533.41l2,2M348.47,535.41l2,-2M338.63,546.45h2.8M340.03,545.05v2.8M339.03,545.45l2,2M339.03,547.45l2,-2M334.65,549.21h2.8M336.05,547.81v2.8M335.05,548.21l2,2M335.05,550.21l2,-2M305.31,573.68h2.8M306.71,572.28v2.8M305.71,572.68l2,2M305.71,574.68l2,-2M333.50,550.67h2.8M334.90,549.27v2.8M333.90,549.67l2,2M333.90,551.67l2,-2M347.00,538.43h2.8M348.40,537.03v2.8M347.40,537.43l2,2M347.40,539.43l2,-2M301.36,577.99h2.8M302.76,576.59v2.8M301.76,576.99l2,2M301.76,578.99l2,-2M307.37,572.13h2.8M308.77,570.73v2.8M307.77,571.13l2,2M307.77,573.13l2,-2M343.79,541.87h2.8M345.19,540.47v2.8M344.19,540.87l2,2M344.19,542.87l2,-2M317.12,564.44h2.8M318.52,563.04v2.8M317.52,563.44l2,2M317.52,565.44l2,-2M314.99,563.93h2.8M316.39,562.53v2.8M315.39,562.93l2,2M315.39,564.93l2,-2M330.99,552.86h2.8M332.39,551.46v2.8M331.39,551.86l2,2M331.39,553.86l2,-2M311.60,572.24h2.8M313.00,570.84v2.8M312.00,571.24l2,2M312.00,573.24l2,-2M321.36,558.50h2.8M322.76,557.10v2.8M321.76,557.50l2,2M321.76,559.50l2,-2M334.49,549.77h2.8M335.89,548.37v2.8M334.89,548.77l2,2M334.89,550.77l2,-2M311.39,570.33h2.8M312.79,568.93v2.8M311.79,569.33l2,2M311.79,571.33l2,-2M306.30,574.09h2.8M307.70,572.69v2.8M306.70,573.09l2,2M306.70,575.09l2,-2M312.60,571.54h2.8M314.00,570.14v2.8M313.00,570.54l2,2M313.00,572.54l2,-2M329.48,553.67h2.8M330.88,552.27v2.8M329.88,552.67l2,2M329.88,554.67l2,-2M348.08,535.12h2.8M349.48,533.72v2.8M348.48,534.12l2,2M348.48,536.12l2,-2M303.20,579.01h2.8M304.60,577.61v2.8M303.60,578.01l2,2M303.60,580.01l2,-2M303.08,574.17h2.8M304.48,572.77v2.8M303.48,573.17l2,2M303.48,575.17l2,-2M323.68,558.27h2.8M325.08,556.87v2.8M324.08,557.27l2,2M324.08,559.27l2,-2M318.37,563.11h2.8M319.77,561.71v2.8M318.77,562.11l2,2M318.77,564.11l2,-2M300.23,577.82h2.8M301.63,576.42v2.8M300.63,576.82l2,2M300.63,578.82l2,-2M302.16,577.85h2.8M303.56,576.45v2.8M302.56,576.85l2,2M302.56,578.85l2,-2M316.13,566.05h2.8M317.53,564.65v2.8M316.53,565.05l2,2M316.53,567.05l2,-2M332.52,549.94h2.8M333.92,548.54v2.8M332.92,548.94l2,2M332.92,550.94l2,-2M318.95,561.05h2.8M320.35,559.65v2.8M319.35,560.05l2,2M319.35,562.05l2,-2M326.46,556.01h2.8M327.86,554.61v2.8M326.86,555.01l2,2M326.86,557.01l2,-2M300.43,578.22h2.8M301.83,576.82v2.8M300.83,577.22l2,2M300.83,579.22l2,-2M331.25,551.80h2.8M332.65,550.40v2.8M331.65,550.80l2,2M331.65,552.80l2,-2M341.15,542.19h2.8M342.55,540.79v2.8M341.55,541.19l2,2M341.55,543.19l2,-2M322.48,558.34h2.8M323.88,556.94v2.8M322.88,557.34l2,2M322.88,559.34l2,-2M350.39,537.06h2.8M351.79,535.66v2.8M350.79,536.06l2,2M350.79,538.06l2,-2M304.98,576.78h2.8M306.38,575.38v2.8M305.38,575.78l2,2M305.38,577.78l2,-2M315.79,565.80h2.8M317.19,564.40v2.8M316.19,564.80l2,2M316.19,566.80l2,-2M303.97,575.46h2.8M305.37,574.06v2.8M304.37,574.46l2,2M304.37,576.46l2,-2M305.59,573.17h2.8M306.99,571.77v2.8M305.99,572.17l2,2M305.99,574.17l2,-2M346.39,537.11h2.8M347.79,535.71v2.8M346.79,536.11l2,2M346.79,538.11l2,-2M329.84,553.89h2.8M331.24,552.49v2.8M330.24,552.89l2,2M330.24,554.89l2,-2M334.29,549.74h2.8M335.69,548.34v2.8M334.69,548.74l2,2M334.69,550.74l2,-2M316.02,563.26h2.8M317.42,561.86v2.8M316.42,562.26l2,2M316.42,564.26l2,-2M302.89,575.29h2.8M304.29,573.89v2.8M303.29,574.29l2,2M303.29,576.29l2,-2M355.60,530.90h2.8M357.00,529.50v2.8M356.00,529.90l2,2M356.00,531.90l2,-2M361.40,525.80h2.8M362.80,524.40v2.8M361.80,524.80l2,2M361.80,526.80l2,-2M362.90,525.10h2.8M364.30,523.70v2.8M363.30,524.10l2,2M363.30,526.10l2,-2M298.80,580.60h2.8M300.20,579.20v2.8M299.20,579.60l2,2M299.20,581.60l2,-2M298.40,579.20h2.8M299.80,577.80v2.8M298.80,578.20l2,2M298.80,580.20l2,-2M299.60,581.20h2.8M301.00,579.80v2.8M300.00,580.20l2,2M300.00,582.20l2,-2" stroke="#000" stroke-width="0.7" fill="none"/>
<line x1="254.70" y1="505.00" x2="254.70" y2="621.00" stroke="#000" stroke-width="1.3" />
<line x1="254.00" y1="620.30" x2="384.50" y2="620.30" stroke="#000" stroke-width="1.3" />
<line x1="251.50" y1="620.00" x2="254.70" y2="620.00" stroke="#000" stroke-width="1.1" />
<line x1="253.10" y1="616.60" x2="254.70" y2="616.60" stroke="#000" stroke-width="0.6" />
<line x1="253.10" y1="614.61" x2="254.70" y2="614.61" stroke="#000" stroke-width="0.6" />
<line x1="253.10" y1="613.20" x2="254.70" y2="613.20" stroke="#000" stroke-width="0.6" />
<line x1="253.10" y1="612.10" x2="254.70" y2="612.10" stroke="#000" stroke-width="0.6" />
<line x1="253.10" y1="611.21" x2="254.70" y2="611.21" stroke="#000" stroke-width="0.6" />
<line x1="253.10" y1="610.45" x2="254.70" y2="610.45" stroke="#000" stroke-width="0.6" />
<line x1="253.10" y1="609.80" x2="254.70" y2="609.80" stroke="#000" stroke-width="0.6" />
<line x1="253.10" y1="609.22" x2="254.70" y2="609.22" stroke="#000" stroke-width="0.6" />
<text x="251.50" y="622.70" font-size="7.6" stroke="#000" stroke-width="0.18" text-anchor="end">10</text>
<line x1="251.50" y1="597.40" x2="254.70" y2="597.40" stroke="#000" stroke-width="1.1" />
<line x1="253.10" y1="594.00" x2="254.70" y2="594.00" stroke="#000" stroke-width="0.6" />
<line x1="253.10" y1="592.01" x2="254.70" y2="592.01" stroke="#000" stroke-width="0.6" />
<line x1="253.10" y1="590.60" x2="254.70" y2="590.60" stroke="#000" stroke-width="0.6" />
<line x1="253.10" y1="589.50" x2="254.70" y2="589.50" stroke="#000" stroke-width="0.6" />
<line x1="253.10" y1="588.61" x2="254.70" y2="588.61" stroke="#000" stroke-width="0.6" />
<line x1="253.10" y1="587.85" x2="254.70" y2="587.85" stroke="#000" stroke-width="0.6" />
<line x1="253.10" y1="587.20" x2="254.70" y2="587.20" stroke="#000" stroke-width="0.6" />
<line x1="253.10" y1="586.62" x2="254.70" y2="586.62" stroke="#000" stroke-width="0.6" />
<text x="251.50" y="600.10" font-size="7.6" stroke="#000" stroke-width="0.18" text-anchor="end">10<tspan font-size="4.2" dy="-2.8">2</tspan></text>
<line x1="251.50" y1="574.60" x2="254.70" y2="574.60" stroke="#000" stroke-width="1.1" />
<line x1="253.10" y1="571.20" x2="254.70" y2="571.20" stroke="#000" stroke-width="0.6" />
<line x1="253.10" y1="569.21" x2="254.70" y2="569.21" stroke="#000" stroke-width="0.6" />
<line x1="253.10" y1="567.80" x2="254.70" y2="567.80" stroke="#000" stroke-width="0.6" />
<line x1="253.10" y1="566.70" x2="254.70" y2="566.70" stroke="#000" stroke-width="0.6" />
<line x1="253.10" y1="565.81" x2="254.70" y2="565.81" stroke="#000" stroke-width="0.6" />
<line x1="253.10" y1="565.05" x2="254.70" y2="565.05" stroke="#000" stroke-width="0.6" />
<line x1="253.10" y1="564.40" x2="254.70" y2="564.40" stroke="#000" stroke-width="0.6" />
<line x1="253.10" y1="563.82" x2="254.70" y2="563.82" stroke="#000" stroke-width="0.6" />
<text x="251.50" y="577.30" font-size="7.6" stroke="#000" stroke-width="0.18" text-anchor="end">10<tspan font-size="4.2" dy="-2.8">4</tspan></text>
<line x1="251.50" y1="551.90" x2="254.70" y2="551.90" stroke="#000" stroke-width="1.1" />
<line x1="253.10" y1="548.50" x2="254.70" y2="548.50" stroke="#000" stroke-width="0.6" />
<line x1="253.10" y1="546.51" x2="254.70" y2="546.51" stroke="#000" stroke-width="0.6" />
<line x1="253.10" y1="545.10" x2="254.70" y2="545.10" stroke="#000" stroke-width="0.6" />
<line x1="253.10" y1="544.00" x2="254.70" y2="544.00" stroke="#000" stroke-width="0.6" />
<line x1="253.10" y1="543.11" x2="254.70" y2="543.11" stroke="#000" stroke-width="0.6" />
<line x1="253.10" y1="542.35" x2="254.70" y2="542.35" stroke="#000" stroke-width="0.6" />
<line x1="253.10" y1="541.70" x2="254.70" y2="541.70" stroke="#000" stroke-width="0.6" />
<line x1="253.10" y1="541.12" x2="254.70" y2="541.12" stroke="#000" stroke-width="0.6" />
<text x="251.50" y="554.60" font-size="7.6" stroke="#000" stroke-width="0.18" text-anchor="end">10<tspan font-size="4.2" dy="-2.8">6</tspan></text>
<line x1="251.50" y1="529.00" x2="254.70" y2="529.00" stroke="#000" stroke-width="1.1" />
<line x1="253.10" y1="525.60" x2="254.70" y2="525.60" stroke="#000" stroke-width="0.6" />
<line x1="253.10" y1="523.61" x2="254.70" y2="523.61" stroke="#000" stroke-width="0.6" />
<line x1="253.10" y1="522.20" x2="254.70" y2="522.20" stroke="#000" stroke-width="0.6" />
<line x1="253.10" y1="521.10" x2="254.70" y2="521.10" stroke="#000" stroke-width="0.6" />
<line x1="253.10" y1="520.21" x2="254.70" y2="520.21" stroke="#000" stroke-width="0.6" />
<line x1="253.10" y1="519.45" x2="254.70" y2="519.45" stroke="#000" stroke-width="0.6" />
<line x1="253.10" y1="518.80" x2="254.70" y2="518.80" stroke="#000" stroke-width="0.6" />
<line x1="253.10" y1="518.22" x2="254.70" y2="518.22" stroke="#000" stroke-width="0.6" />
<text x="251.50" y="531.70" font-size="7.6" stroke="#000" stroke-width="0.18" text-anchor="end">10<tspan font-size="4.2" dy="-2.8">8</tspan></text>
<line x1="251.50" y1="506.00" x2="254.70" y2="506.00" stroke="#000" stroke-width="1.1" />
<text x="251.50" y="508.70" font-size="7.6" stroke="#000" stroke-width="0.18" text-anchor="end">10<tspan font-size="4.2" dy="-2.8">10</tspan></text>
<line x1="254.70" y1="620.30" x2="254.70" y2="623.50" stroke="#000" stroke-width="1.1" />
<line x1="258.55" y1="620.30" x2="258.55" y2="621.90" stroke="#000" stroke-width="0.6" />
<line x1="260.81" y1="620.30" x2="260.81" y2="621.90" stroke="#000" stroke-width="0.6" />
<line x1="262.41" y1="620.30" x2="262.41" y2="621.90" stroke="#000" stroke-width="0.6" />
<line x1="263.65" y1="620.30" x2="263.65" y2="621.90" stroke="#000" stroke-width="0.6" />
<line x1="264.66" y1="620.30" x2="264.66" y2="621.90" stroke="#000" stroke-width="0.6" />
<line x1="265.52" y1="620.30" x2="265.52" y2="621.90" stroke="#000" stroke-width="0.6" />
<line x1="266.26" y1="620.30" x2="266.26" y2="621.90" stroke="#000" stroke-width="0.6" />
<line x1="266.91" y1="620.30" x2="266.91" y2="621.90" stroke="#000" stroke-width="0.6" />
<text x="255.90" y="633.10" font-size="7.6" stroke="#000" stroke-width="0.18" text-anchor="middle">10</text>
<line x1="280.30" y1="620.30" x2="280.30" y2="623.50" stroke="#000" stroke-width="1.1" />
<line x1="284.15" y1="620.30" x2="284.15" y2="621.90" stroke="#000" stroke-width="0.6" />
<line x1="286.41" y1="620.30" x2="286.41" y2="621.90" stroke="#000" stroke-width="0.6" />
<line x1="288.01" y1="620.30" x2="288.01" y2="621.90" stroke="#000" stroke-width="0.6" />
<line x1="289.25" y1="620.30" x2="289.25" y2="621.90" stroke="#000" stroke-width="0.6" />
<line x1="290.26" y1="620.30" x2="290.26" y2="621.90" stroke="#000" stroke-width="0.6" />
<line x1="291.12" y1="620.30" x2="291.12" y2="621.90" stroke="#000" stroke-width="0.6" />
<line x1="291.86" y1="620.30" x2="291.86" y2="621.90" stroke="#000" stroke-width="0.6" />
<line x1="292.51" y1="620.30" x2="292.51" y2="621.90" stroke="#000" stroke-width="0.6" />
<text x="281.50" y="633.10" font-size="7.6" stroke="#000" stroke-width="0.18" text-anchor="middle">10<tspan font-size="4.2" dy="-2.8">2</tspan></text>
<line x1="306.30" y1="620.30" x2="306.30" y2="623.50" stroke="#000" stroke-width="1.1" />
<line x1="310.15" y1="620.30" x2="310.15" y2="621.90" stroke="#000" stroke-width="0.6" />
<line x1="312.41" y1="620.30" x2="312.41" y2="621.90" stroke="#000" stroke-width="0.6" />
<line x1="314.01" y1="620.30" x2="314.01" y2="621.90" stroke="#000" stroke-width="0.6" />
<line x1="315.25" y1="620.30" x2="315.25" y2="621.90" stroke="#000" stroke-width="0.6" />
<line x1="316.26" y1="620.30" x2="316.26" y2="621.90" stroke="#000" stroke-width="0.6" />
<line x1="317.12" y1="620.30" x2="317.12" y2="621.90" stroke="#000" stroke-width="0.6" />
<line x1="317.86" y1="620.30" x2="317.86" y2="621.90" stroke="#000" stroke-width="0.6" />
<line x1="318.51" y1="620.30" x2="318.51" y2="621.90" stroke="#000" stroke-width="0.6" />
<text x="307.50" y="633.10" font-size="7.6" stroke="#000" stroke-width="0.18" text-anchor="middle">10<tspan font-size="4.2" dy="-2.8">4</tspan></text>
<line x1="332.20" y1="620.30" x2="332.20" y2="623.50" stroke="#000" stroke-width="1.1" />
<line x1="336.05" y1="620.30" x2="336.05" y2="621.90" stroke="#000" stroke-width="0.6" />
<line x1="338.31" y1="620.30" x2="338.31" y2="621.90" stroke="#000" stroke-width="0.6" />
<line x1="339.91" y1="620.30" x2="339.91" y2="621.90" stroke="#000" stroke-width="0.6" />
<line x1="341.15" y1="620.30" x2="341.15" y2="621.90" stroke="#000" stroke-width="0.6" />
<line x1="342.16" y1="620.30" x2="342.16" y2="621.90" stroke="#000" stroke-width="0.6" />
<line x1="343.02" y1="620.30" x2="343.02" y2="621.90" stroke="#000" stroke-width="0.6" />
<line x1="343.76" y1="620.30" x2="343.76" y2="621.90" stroke="#000" stroke-width="0.6" />
<line x1="344.41" y1="620.30" x2="344.41" y2="621.90" stroke="#000" stroke-width="0.6" />
<text x="333.40" y="633.10" font-size="7.6" stroke="#000" stroke-width="0.18" text-anchor="middle">10<tspan font-size="4.2" dy="-2.8">6</tspan></text>
<line x1="358.00" y1="620.30" x2="358.00" y2="623.50" stroke="#000" stroke-width="1.1" />
<line x1="361.85" y1="620.30" x2="361.85" y2="621.90" stroke="#000" stroke-width="0.6" />
<line x1="364.11" y1="620.30" x2="364.11" y2="621.90" stroke="#000" stroke-width="0.6" />
<line x1="365.71" y1="620.30" x2="365.71" y2="621.90" stroke="#000" stroke-width="0.6" />
<line x1="366.95" y1="620.30" x2="366.95" y2="621.90" stroke="#000" stroke-width="0.6" />
<line x1="367.96" y1="620.30" x2="367.96" y2="621.90" stroke="#000" stroke-width="0.6" />
<line x1="368.82" y1="620.30" x2="368.82" y2="621.90" stroke="#000" stroke-width="0.6" />
<line x1="369.56" y1="620.30" x2="369.56" y2="621.90" stroke="#000" stroke-width="0.6" />
<line x1="370.21" y1="620.30" x2="370.21" y2="621.90" stroke="#000" stroke-width="0.6" />
<text x="359.20" y="633.10" font-size="7.6" stroke="#000" stroke-width="0.18" text-anchor="middle">10<tspan font-size="4.2" dy="-2.8">8</tspan></text>
<line x1="383.80" y1="620.30" x2="383.80" y2="623.50" stroke="#000" stroke-width="1.1" />
<text x="385.00" y="633.10" font-size="7.6" stroke="#000" stroke-width="0.18" text-anchor="middle">10<tspan font-size="4.2" dy="-2.8">10</tspan></text>
<text x="260.6" y="517.0" stroke="#000" stroke-width="0.18" font-size="9.0" textLength="47.4" lengthAdjust="spacingAndGlyphs">R<tspan font-size="5" dy="-3.4">2</tspan><tspan dy="3.4"> = 0.9995</tspan></text>
<text transform="translate(229.0,567.9) rotate(-90)" stroke="#000" stroke-width="0.18" font-size="9.42" text-anchor="middle" textLength="63" lengthAdjust="spacingAndGlyphs">FCCP (Ion counts)</text>
<text x="279.60" y="645.10" font-size="8.99" stroke="#000" stroke-width="0.2" fill="#000" textLength="76.40" lengthAdjust="spacingAndGlyphs" >MB1-47 (Ion counts)</text>
<text x="406.90" y="497.20" font-size="15.94" text-anchor="middle" font-weight="bold" fill="#000" >H</text>
<text x="485.40" y="502.40" font-size="10.14" text-anchor="middle" stroke="#000" stroke-width="0.2" fill="#000" stroke="#000" stroke-width="0.25">ATP</text>
<rect x="451.6" y="535.44" width="14.3" height="84.66" fill="#c80014"/>
<line x1="458.75" y1="535.44" x2="458.75" y2="535.44" stroke="#000" stroke-width="1.1" />
<line x1="456.25" y1="535.44" x2="461.25" y2="535.44" stroke="#000" stroke-width="1.1" />
<rect x="472.6" y="576.94" width="14.3" height="43.16" fill="#0033b0"/>
<line x1="479.75" y1="571.13" x2="479.75" y2="576.94" stroke="#000" stroke-width="1.1" />
<line x1="477.25" y1="571.13" x2="482.25" y2="571.13" stroke="#000" stroke-width="1.1" />
<rect x="493.6" y="576.94" width="14.3" height="43.16" fill="#40ff00"/>
<line x1="500.75" y1="569.47" x2="500.75" y2="576.94" stroke="#000" stroke-width="1.1" />
<line x1="498.25" y1="569.47" x2="503.25" y2="569.47" stroke="#000" stroke-width="1.1" />
<circle cx="453.8" cy="535.4" r="2.5" fill="#fff" stroke="#000" stroke-width="0.7"/><circle cx="453.8" cy="535.4" r="1.8" fill="#ffd0d0" stroke="#e00010" stroke-width="1.0"/>
<circle cx="463.0" cy="535.4" r="2.5" fill="#fff" stroke="#000" stroke-width="0.7"/><circle cx="463.0" cy="535.4" r="1.8" fill="#ffd0d0" stroke="#e00010" stroke-width="1.0"/>
<circle cx="458.5" cy="541.0" r="2.5" fill="#fff" stroke="#000" stroke-width="0.7"/><circle cx="458.5" cy="541.0" r="1.8" fill="#ffd0d0" stroke="#e00010" stroke-width="1.0"/>
<line x1="455.50" y1="535.00" x2="461.30" y2="535.00" stroke="#000" stroke-width="1.1" />
<circle cx="475.8" cy="576.94" r="1.7" fill="#1f3fd0" stroke="#000" stroke-width="0.6"/><circle cx="483.4" cy="576.94" r="1.7" fill="#1f3fd0" stroke="#000" stroke-width="0.6"/><path d="M477.8,570.13 l3.6,0 l-1.8,2.6 Z" fill="#1f3fd0" stroke="#000" stroke-width="0.6"/>
<path d="M494.8,579.69 l3.8,0 l-1.9,3 Z" fill="#40ff00" stroke="#000" stroke-width="0.7"/><path d="M503.2,575.54 l3.8,0 l-1.9,3 Z" fill="#40ff00" stroke="#000" stroke-width="0.7"/><path d="M498.9,568.07 l3.8,0 l-1.9,3 Z" fill="#40ff00" stroke="#000" stroke-width="0.7"/>
<line x1="444.10" y1="519.90" x2="444.10" y2="620.80" stroke="#000" stroke-width="1.4" />
<line x1="443.40" y1="620.10" x2="515.10" y2="620.10" stroke="#000" stroke-width="1.4" />
<line x1="440.10" y1="620.10" x2="444.10" y2="620.10" stroke="#000" stroke-width="1.2" />
<text x="436.60" y="623.40" font-size="7.83" text-anchor="end" stroke="#000" stroke-width="0.2" fill="#000" >0</text>
<line x1="440.10" y1="586.90" x2="444.10" y2="586.90" stroke="#000" stroke-width="1.2" />
<text x="436.60" y="590.20" font-size="7.83" text-anchor="end" stroke="#000" stroke-width="0.2" fill="#000" >0.4</text>
<line x1="440.10" y1="553.70" x2="444.10" y2="553.70" stroke="#000" stroke-width="1.2" />
<text x="436.60" y="557.00" font-size="7.83" text-anchor="end" stroke="#000" stroke-width="0.2" fill="#000" >0.8</text>
<line x1="440.10" y1="520.50" x2="444.10" y2="520.50" stroke="#000" stroke-width="1.2" />
<text x="436.60" y="523.80" font-size="7.83" text-anchor="end" stroke="#000" stroke-width="0.2" fill="#000" >1.2</text>
<line x1="458.75" y1="620.10" x2="458.75" y2="623.10" stroke="#000" stroke-width="1.1" />
<line x1="479.75" y1="620.10" x2="479.75" y2="623.10" stroke="#000" stroke-width="1.1" />
<line x1="500.75" y1="620.10" x2="500.75" y2="623.10" stroke="#000" stroke-width="1.1" />
<text transform="translate(419.0,565.8) rotate(-90)" stroke="#000" stroke-width="0.2" font-size="8.99" text-anchor="middle" textLength="83" lengthAdjust="spacingAndGlyphs">Fold change vs. DMSO</text>
<text transform="translate(462.0,630.8) rotate(-45)" stroke="#000" stroke-width="0.2" font-size="8.99" text-anchor="end" textLength="28" lengthAdjust="spacingAndGlyphs">DMSO</text>
<text transform="translate(483.4,630.8) rotate(-45)" stroke="#000" stroke-width="0.2" font-size="8.99" text-anchor="end" textLength="34" lengthAdjust="spacingAndGlyphs">MB1-47</text>
<text transform="translate(504.6,630.8) rotate(-45)" stroke="#000" stroke-width="0.2" font-size="8.99" text-anchor="end" textLength="25" lengthAdjust="spacingAndGlyphs">FCCP</text>
<line x1="459.90" y1="519.40" x2="502.80" y2="519.40" stroke="#000" stroke-width="1.3" />
<polygon points="477.40,512.60 477.96,514.03 479.49,514.12 478.30,515.09 478.69,516.58 477.40,515.75 476.11,516.58 476.50,515.09 475.31,514.12 476.84,514.03" fill="#000"/>
<polygon points="481.60,512.60 482.16,514.03 483.69,514.12 482.50,515.09 482.89,516.58 481.60,515.75 480.31,516.58 480.70,515.09 479.51,514.12 481.04,514.03" fill="#000"/>
<polygon points="485.80,512.60 486.36,514.03 487.89,514.12 486.70,515.09 487.09,516.58 485.80,515.75 484.51,516.58 484.90,515.09 483.71,514.12 485.24,514.03" fill="#000"/>
<line x1="458.80" y1="531.30" x2="481.60" y2="531.30" stroke="#000" stroke-width="1.3" />
<polygon points="466.80,524.60 467.36,526.03 468.89,526.12 467.70,527.09 468.09,528.58 466.80,527.75 465.51,528.58 465.90,527.09 464.71,526.12 466.24,526.03" fill="#000"/>
<polygon points="471.00,524.60 471.56,526.03 473.09,526.12 471.90,527.09 472.29,528.58 471.00,527.75 469.71,528.58 470.10,527.09 468.91,526.12 470.44,526.03" fill="#000"/>
<polygon points="475.20,524.60 475.76,526.03 477.29,526.12 476.10,527.09 476.49,528.58 475.20,527.75 473.91,528.58 474.30,527.09 473.11,526.12 474.64,526.03" fill="#000"/>
<rect x="0.65" y="0.65" width="518.7" height="659.7" fill="none" stroke="#000" stroke-width="1.3"/>
</svg>
</body></html>
